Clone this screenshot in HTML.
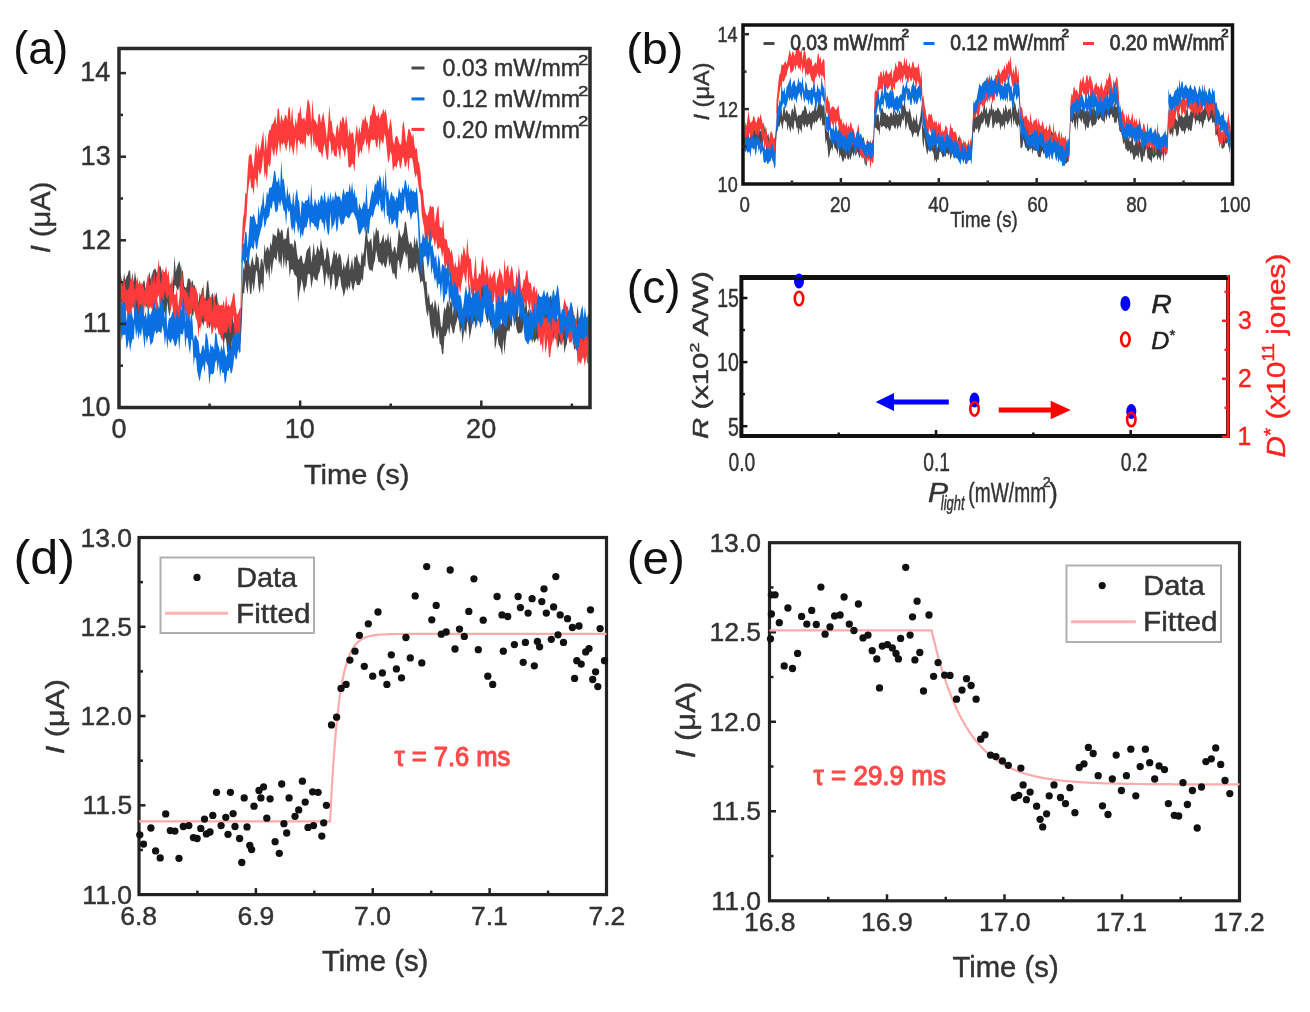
<!DOCTYPE html>
<html><head><meta charset="utf-8"><style>
html,body{margin:0;padding:0;background:#fff;width:1310px;height:1012px;overflow:hidden}
svg{display:block;filter:blur(0.45px)}
text{font-family:"Liberation Sans",sans-serif}
</style></head><body>
<svg width="1310" height="1012" viewBox="0 0 1310 1012">
<g>
<polygon fill="#4a4a4a" fill-opacity="1.0"  points="120.5,271.1 121.7,280.5 122.9,283.4 124.1,273.1 125.3,280.4 126.5,276.6 127.7,274.9 128.9,270.3 130.1,271.1 131.3,285.4 132.5,272.2 133.7,282.7 134.9,270.8 136.1,279.8 137.3,296.7 138.5,289.7 139.7,293.8 140.9,288.1 142.1,295.2 143.3,281.1 144.5,280.5 145.7,289.4 146.9,281.3 148.1,280.7 149.3,271.0 150.5,279.6 151.7,276.5 152.9,271.3 154.1,269.3 155.3,268.5 156.5,272.0 157.7,273.5 158.9,268.1 160.1,265.3 161.3,269.3 162.5,277.7 163.7,294.4 164.9,279.6 166.1,273.2 167.3,282.2 168.5,282.6 169.7,288.3 170.9,281.8 172.1,285.2 173.3,279.1 174.5,255.6 175.7,272.3 176.9,267.6 178.1,263.9 179.3,260.8 180.5,266.3 181.7,272.6 182.9,269.7 184.1,285.8 185.3,287.7 186.5,287.3 187.7,279.4 188.9,278.0 190.1,279.7 191.3,284.5 192.5,279.7 193.7,286.2 194.9,284.8 196.1,295.5 197.3,291.8 198.5,303.3 199.7,292.6 200.9,295.9 202.1,288.1 203.3,288.6 204.5,301.1 205.7,296.9 206.9,282.8 208.1,279.5 209.3,292.0 210.5,303.5 211.7,294.3 212.9,292.9 214.1,302.0 215.3,295.8 216.5,292.1 217.7,300.9 218.9,309.6 220.1,310.6 221.3,308.1 222.5,320.7 223.7,309.3 224.9,315.4 226.1,318.6 227.3,319.2 228.5,322.5 229.7,327.1 230.9,327.3 232.1,314.0 233.3,322.3 234.5,325.1 235.7,322.5 236.9,328.1 238.1,330.0 239.3,307.7 240.5,320.6 241.7,297.4 242.9,265.9 244.1,270.7 245.3,258.3 246.5,260.8 247.7,255.1 248.9,261.6 250.1,267.6 251.3,261.6 252.5,256.0 253.7,264.6 254.9,265.3 256.1,251.5 257.3,256.7 258.5,257.7 259.7,270.7 260.9,259.3 262.1,258.8 263.3,266.1 264.5,243.2 265.7,252.5 266.9,247.3 268.1,247.3 269.3,251.7 270.5,242.1 271.7,245.9 272.9,232.7 274.1,235.5 275.3,235.0 276.5,237.8 277.7,227.7 278.9,229.1 280.1,233.7 281.3,229.4 282.5,230.2 283.7,240.3 284.9,238.3 286.1,239.2 287.3,228.9 288.5,226.1 289.7,243.3 290.9,244.4 292.1,242.7 293.3,248.2 294.5,239.1 295.7,241.9 296.9,252.6 298.1,259.8 299.3,258.9 300.5,255.8 301.7,255.6 302.9,263.0 304.1,264.0 305.3,258.7 306.5,251.6 307.7,249.1 308.9,247.8 310.1,244.7 311.3,263.1 312.5,254.4 313.7,242.1 314.9,255.5 316.1,254.2 317.3,245.0 318.5,249.1 319.7,251.8 320.9,238.0 322.1,246.4 323.3,250.0 324.5,260.8 325.7,257.9 326.9,246.2 328.1,250.3 329.3,256.6 330.5,267.9 331.7,263.2 332.9,256.3 334.1,249.5 335.3,255.8 336.5,251.4 337.7,259.5 338.9,253.6 340.1,253.9 341.3,259.5 342.5,270.9 343.7,262.1 344.9,269.1 346.1,264.3 347.3,260.6 348.5,252.7 349.7,270.8 350.9,265.5 352.1,257.6 353.3,270.3 354.5,256.0 355.7,257.7 356.9,253.1 358.1,260.8 359.3,262.9 360.5,265.9 361.7,251.3 362.9,256.5 364.1,250.1 365.3,236.0 366.5,226.7 367.7,239.2 368.9,243.1 370.1,239.7 371.3,238.2 372.5,252.2 373.7,229.9 374.9,237.0 376.1,226.7 377.3,231.6 378.5,229.5 379.7,243.6 380.9,242.8 382.1,239.0 383.3,233.4 384.5,243.6 385.7,238.3 386.9,240.9 388.1,231.9 389.3,244.3 390.5,235.2 391.7,248.5 392.9,252.7 394.1,246.6 395.3,247.5 396.5,254.5 397.7,241.7 398.9,228.0 400.1,233.9 401.3,237.9 402.5,235.0 403.7,232.0 404.9,221.3 406.1,222.4 407.3,231.9 408.5,241.1 409.7,245.1 410.9,240.4 412.1,246.4 413.3,248.8 414.5,235.3 415.7,245.3 416.9,236.8 418.1,245.9 419.3,250.6 420.5,254.7 421.7,253.4 422.9,251.4 424.1,268.9 425.3,281.9 426.5,280.9 427.7,298.7 428.9,292.6 430.1,304.7 431.3,304.7 432.5,301.3 433.7,309.4 434.9,299.1 436.1,304.0 437.3,313.1 438.5,302.3 439.7,314.5 440.9,325.9 442.1,327.8 443.3,314.1 444.5,306.5 445.7,310.4 446.9,303.4 448.1,299.9 449.3,307.9 450.5,301.6 451.7,302.1 452.9,316.3 454.1,300.9 455.3,306.6 456.5,303.2 457.7,296.0 458.9,304.5 460.1,305.8 461.3,311.9 462.5,314.8 463.7,317.9 464.9,296.9 466.1,293.6 467.3,302.0 468.5,294.5 469.7,315.1 470.9,308.8 472.1,293.5 473.3,306.2 474.5,297.6 475.7,308.4 476.9,292.4 478.1,296.6 479.3,287.0 480.5,288.2 481.7,283.9 482.9,283.5 484.1,279.0 485.3,293.0 486.5,288.9 487.7,300.5 488.9,298.2 490.1,293.3 491.3,297.1 492.5,304.6 493.7,304.3 494.9,321.2 496.1,318.1 497.3,314.6 498.5,326.7 499.7,319.2 500.9,325.2 502.1,322.5 503.3,321.4 504.5,325.7 505.7,318.7 506.9,299.3 508.1,306.7 509.3,310.3 510.5,293.9 511.7,294.8 512.9,282.0 514.1,291.6 515.3,291.2 516.5,298.9 517.7,316.9 518.9,316.6 520.1,304.9 521.3,303.6 522.5,298.0 523.7,295.3 524.9,309.5 526.1,294.9 527.3,313.5 528.5,308.9 529.7,314.1 530.9,312.1 532.1,314.0 533.3,313.0 534.5,312.0 535.7,311.1 536.9,314.0 538.1,313.1 539.3,310.0 540.5,315.0 541.7,302.7 542.9,306.0 544.1,297.0 545.3,299.7 546.5,305.5 547.7,298.0 548.9,302.1 550.1,296.3 551.3,295.0 552.5,305.8 553.7,316.4 554.9,305.4 556.1,306.1 557.3,320.5 558.5,317.1 559.7,314.0 560.9,322.2 562.1,323.3 563.3,312.8 564.5,316.5 565.7,317.2 566.9,321.0 568.1,314.1 569.3,312.2 570.5,314.6 571.7,302.7 572.9,309.0 574.1,321.9 575.3,329.9 576.5,317.3 577.7,305.1 578.9,321.4 580.1,329.2 581.3,320.3 582.5,331.7 583.7,337.4 584.9,329.6 586.1,326.8 587.3,318.2 588.5,311.6 588.5,336.5 587.3,343.0 586.1,350.9 584.9,347.0 583.7,355.6 582.5,359.4 581.3,343.8 580.1,352.3 578.9,348.4 577.7,343.6 576.5,350.5 575.3,348.1 574.1,350.3 572.9,334.9 571.7,326.5 570.5,341.3 569.3,339.1 568.1,331.9 566.9,343.8 565.7,346.4 564.5,353.8 563.3,338.7 562.1,343.6 560.9,345.2 559.7,341.0 558.5,347.4 557.3,345.2 556.1,330.8 554.9,332.2 553.7,343.2 552.5,330.3 551.3,324.6 550.1,324.6 548.9,334.5 547.7,318.7 546.5,326.8 545.3,320.6 544.1,331.1 542.9,334.3 541.7,332.1 540.5,343.4 539.3,331.7 538.1,342.0 536.9,337.9 535.7,339.7 534.5,343.0 533.3,338.2 532.1,343.5 530.9,336.4 529.7,342.2 528.5,331.3 527.3,328.0 526.1,323.0 524.9,333.9 523.7,321.3 522.5,330.6 521.3,333.0 520.1,332.8 518.9,333.4 517.7,333.1 516.5,328.7 515.3,320.3 514.1,327.6 512.9,309.0 511.7,327.4 510.5,324.7 509.3,332.0 508.1,330.1 506.9,331.4 505.7,340.5 504.5,355.0 503.3,338.5 502.1,356.1 500.9,349.4 499.7,346.2 498.5,344.4 497.3,335.0 496.1,344.8 494.9,349.6 493.7,327.2 492.5,319.0 491.3,329.3 490.1,324.0 488.9,316.0 487.7,323.4 486.5,319.0 485.3,313.3 484.1,297.7 482.9,310.0 481.7,310.0 480.5,318.3 479.3,323.0 478.1,320.2 476.9,320.7 475.7,329.5 474.5,321.0 473.3,321.1 472.1,325.6 470.9,331.9 469.7,339.6 468.5,326.4 467.3,320.0 466.1,335.0 464.9,329.2 463.7,333.8 462.5,344.1 461.3,327.0 460.1,334.0 458.9,321.4 457.7,316.9 456.5,322.2 455.3,325.9 454.1,333.4 452.9,333.3 451.7,328.0 450.5,322.9 449.3,335.5 448.1,327.6 446.9,331.9 445.7,336.2 444.5,336.0 443.3,354.0 442.1,354.2 440.9,344.6 439.7,344.2 438.5,329.5 437.3,339.1 436.1,334.2 434.9,325.2 433.7,338.0 432.5,338.6 431.3,330.3 430.1,324.1 428.9,309.5 427.7,316.9 426.5,312.0 425.3,303.1 424.1,290.3 422.9,281.8 421.7,280.5 420.5,283.8 419.3,275.4 418.1,269.4 416.9,262.1 415.7,272.2 414.5,265.9 413.3,271.7 412.1,273.3 410.9,267.7 409.7,268.6 408.5,273.0 407.3,253.0 406.1,258.6 404.9,250.9 403.7,254.0 402.5,260.3 401.3,264.8 400.1,270.0 398.9,259.7 397.7,261.3 396.5,280.0 395.3,278.1 394.1,272.6 392.9,274.7 391.7,269.4 390.5,261.8 389.3,267.6 388.1,254.9 386.9,262.9 385.7,268.3 384.5,266.5 383.3,262.1 382.1,266.8 380.9,263.3 379.7,262.1 378.5,262.0 377.3,255.7 376.1,250.1 374.9,260.4 373.7,264.3 372.5,271.9 371.3,270.1 370.1,270.5 368.9,268.6 367.7,262.7 366.5,246.8 365.3,267.7 364.1,265.3 362.9,281.4 361.7,278.3 360.5,282.7 359.3,285.6 358.1,285.1 356.9,285.1 355.7,280.0 354.5,284.6 353.3,291.6 352.1,288.1 350.9,280.0 349.7,289.7 348.5,285.6 347.3,291.6 346.1,286.3 344.9,292.3 343.7,297.0 342.5,290.0 341.3,286.1 340.1,276.1 338.9,277.6 337.7,285.5 336.5,286.8 335.3,291.0 334.1,275.1 332.9,273.5 331.7,285.2 330.5,290.4 329.3,273.9 328.1,280.8 326.9,271.9 325.7,276.5 324.5,287.8 323.3,273.8 322.1,265.8 320.9,265.3 319.7,272.1 318.5,274.0 317.3,281.6 316.1,279.5 314.9,280.0 313.7,275.4 312.5,281.8 311.3,288.4 310.1,274.9 308.9,273.4 307.7,275.0 306.5,285.5 305.3,287.7 304.1,293.6 302.9,285.4 301.7,278.7 300.5,286.6 299.3,292.7 298.1,302.8 296.9,277.7 295.7,275.6 294.5,275.0 293.3,270.8 292.1,268.9 290.9,269.7 289.7,277.5 288.5,260.8 287.3,260.1 286.1,269.6 284.9,257.1 283.7,269.7 282.5,252.4 281.3,268.9 280.1,260.3 278.9,264.7 277.7,249.9 276.5,260.8 275.3,258.7 274.1,257.3 272.9,264.0 271.7,275.2 270.5,263.0 269.3,281.8 268.1,267.8 266.9,275.1 265.7,270.7 264.5,262.6 263.3,292.6 262.1,283.6 260.9,283.3 259.7,294.0 258.5,287.3 257.3,272.4 256.1,270.1 254.9,281.8 253.7,292.4 252.5,281.5 251.3,293.7 250.1,294.0 248.9,278.7 247.7,294.2 246.5,288.5 245.3,279.7 244.1,293.5 242.9,293.2 241.7,324.8 240.5,344.5 239.3,336.3 238.1,351.9 236.9,350.1 235.7,347.1 234.5,356.7 233.3,347.5 232.1,337.4 230.9,355.9 229.7,362.4 228.5,351.4 227.3,352.3 226.1,340.1 224.9,337.2 223.7,346.8 222.5,336.0 221.3,339.4 220.1,334.3 218.9,332.2 217.7,320.8 216.5,323.7 215.3,326.9 214.1,327.6 212.9,311.3 211.7,314.7 210.5,325.2 209.3,328.9 208.1,316.5 206.9,309.4 205.7,321.7 204.5,320.5 203.3,326.1 202.1,322.0 200.9,321.8 199.7,328.5 198.5,326.4 197.3,314.5 196.1,320.8 194.9,310.2 193.7,311.9 192.5,316.9 191.3,308.8 190.1,313.0 188.9,310.8 187.7,309.0 186.5,309.5 185.3,310.7 184.1,303.0 182.9,296.5 181.7,298.6 180.5,299.7 179.3,285.8 178.1,290.9 176.9,288.7 175.7,285.4 174.5,285.3 173.3,301.1 172.1,300.1 170.9,307.1 169.7,316.4 168.5,312.1 167.3,301.8 166.1,316.0 164.9,313.2 163.7,310.1 162.5,315.9 161.3,294.0 160.1,295.5 158.9,289.3 157.7,296.9 156.5,298.2 155.3,289.9 154.1,299.2 152.9,295.4 151.7,303.7 150.5,299.7 149.3,300.1 148.1,300.8 146.9,306.1 145.7,308.3 144.5,296.8 143.3,316.0 142.1,312.9 140.9,310.1 139.7,316.6 138.5,326.7 137.3,320.3 136.1,311.0 134.9,297.0 133.7,306.2 132.5,297.8 131.3,309.5 130.1,305.8 128.9,305.0 127.7,319.5 126.5,294.2 125.3,301.5 124.1,302.9 122.9,308.1 121.7,307.1 120.5,296.7"/>
<polygon fill="#ff3a3a" fill-opacity="1.0"  points="120.5,275.8 121.7,281.5 122.9,286.9 124.1,276.9 125.3,287.2 126.5,290.8 127.7,289.7 128.9,288.4 130.1,282.1 131.3,278.9 132.5,275.7 133.7,284.4 134.9,291.8 136.1,281.7 137.3,276.8 138.5,284.5 139.7,280.0 140.9,284.8 142.1,281.9 143.3,286.2 144.5,291.1 145.7,288.6 146.9,280.4 148.1,273.2 149.3,286.1 150.5,284.3 151.7,273.4 152.9,283.9 154.1,268.9 155.3,284.9 156.5,275.7 157.7,268.4 158.9,258.7 160.1,279.6 161.3,285.3 162.5,268.6 163.7,271.6 164.9,272.3 166.1,265.4 167.3,276.1 168.5,269.9 169.7,283.7 170.9,287.4 172.1,274.4 173.3,293.1 174.5,294.4 175.7,294.7 176.9,288.3 178.1,306.9 179.3,298.6 180.5,281.6 181.7,264.7 182.9,284.6 184.1,289.8 185.3,288.8 186.5,292.2 187.7,292.7 188.9,299.8 190.1,288.3 191.3,280.6 192.5,287.6 193.7,286.2 194.9,289.8 196.1,287.0 197.3,294.8 198.5,305.5 199.7,301.9 200.9,295.1 202.1,296.5 203.3,283.8 204.5,297.7 205.7,300.3 206.9,300.9 208.1,300.2 209.3,296.8 210.5,296.8 211.7,299.5 212.9,312.4 214.1,291.5 215.3,302.2 216.5,305.9 217.7,301.0 218.9,304.7 220.1,305.7 221.3,304.4 222.5,305.8 223.7,299.8 224.9,308.6 226.1,294.5 227.3,306.7 228.5,303.8 229.7,307.2 230.9,304.3 232.1,299.7 233.3,293.0 234.5,293.9 235.7,307.0 236.9,314.7 238.1,313.0 239.3,309.8 240.5,307.2 241.7,243.8 242.9,219.0 244.1,212.7 245.3,192.7 246.5,194.1 247.7,169.8 248.9,155.5 250.1,154.7 251.3,153.2 252.5,163.9 253.7,168.3 254.9,152.2 256.1,141.8 257.3,154.2 258.5,143.0 259.7,151.9 260.9,145.3 262.1,137.4 263.3,130.5 264.5,152.4 265.7,134.1 266.9,150.5 268.1,135.8 269.3,130.0 270.5,130.2 271.7,124.2 272.9,123.7 274.1,120.6 275.3,115.6 276.5,126.1 277.7,109.4 278.9,108.3 280.1,124.1 281.3,113.9 282.5,119.5 283.7,121.2 284.9,115.0 286.1,114.9 287.3,120.3 288.5,107.4 289.7,107.1 290.9,122.6 292.1,106.1 293.3,123.3 294.5,128.0 295.7,117.9 296.9,124.9 298.1,113.1 299.3,113.1 300.5,105.6 301.7,118.1 302.9,119.5 304.1,117.1 305.3,121.4 306.5,109.8 307.7,98.8 308.9,101.2 310.1,106.6 311.3,122.5 312.5,98.8 313.7,118.4 314.9,120.3 316.1,121.8 317.3,125.5 318.5,114.8 319.7,113.5 320.9,122.9 322.1,117.3 323.3,111.8 324.5,120.4 325.7,128.5 326.9,139.3 328.1,123.9 329.3,105.0 330.5,120.4 331.7,121.2 332.9,132.5 334.1,134.1 335.3,137.9 336.5,127.0 337.7,123.8 338.9,133.3 340.1,119.1 341.3,123.6 342.5,116.3 343.7,117.9 344.9,125.1 346.1,114.6 347.3,123.8 348.5,138.0 349.7,128.6 350.9,134.7 352.1,132.1 353.3,133.6 354.5,145.9 355.7,132.1 356.9,124.2 358.1,135.1 359.3,126.4 360.5,133.8 361.7,123.7 362.9,118.3 364.1,120.8 365.3,114.7 366.5,121.4 367.7,122.7 368.9,129.7 370.1,116.0 371.3,115.0 372.5,109.6 373.7,103.5 374.9,107.7 376.1,115.2 377.3,116.7 378.5,111.4 379.7,119.2 380.9,114.2 382.1,113.7 383.3,108.6 384.5,113.2 385.7,109.2 386.9,117.2 388.1,130.2 389.3,126.6 390.5,118.0 391.7,126.1 392.9,140.2 394.1,145.3 395.3,137.2 396.5,135.8 397.7,137.0 398.9,142.1 400.1,144.9 401.3,143.5 402.5,125.3 403.7,120.6 404.9,131.6 406.1,143.6 407.3,136.6 408.5,128.4 409.7,129.5 410.9,132.9 412.1,137.3 413.3,133.2 414.5,145.5 415.7,149.4 416.9,147.7 418.1,160.9 419.3,163.4 420.5,172.0 421.7,188.0 422.9,190.3 424.1,204.2 425.3,211.4 426.5,215.6 427.7,215.6 428.9,211.1 430.1,204.7 431.3,207.3 432.5,206.4 433.7,206.9 434.9,223.3 436.1,216.3 437.3,208.1 438.5,205.5 439.7,226.5 440.9,227.2 442.1,228.6 443.3,219.0 444.5,238.4 445.7,239.2 446.9,239.5 448.1,248.3 449.3,247.2 450.5,253.3 451.7,249.3 452.9,256.4 454.1,267.4 455.3,261.5 456.5,267.5 457.7,267.1 458.9,252.4 460.1,266.3 461.3,252.4 462.5,256.4 463.7,245.8 464.9,251.2 466.1,256.9 467.3,237.3 468.5,254.0 469.7,258.8 470.9,258.4 472.1,273.9 473.3,280.8 474.5,268.3 475.7,254.9 476.9,278.9 478.1,278.1 479.3,272.4 480.5,275.5 481.7,261.3 482.9,256.2 484.1,268.7 485.3,275.5 486.5,264.3 487.7,269.6 488.9,279.7 490.1,271.2 491.3,278.5 492.5,276.1 493.7,272.5 494.9,270.4 496.1,285.3 497.3,278.6 498.5,275.0 499.7,267.4 500.9,272.8 502.1,275.1 503.3,283.8 504.5,257.8 505.7,272.2 506.9,266.9 508.1,264.5 509.3,276.9 510.5,271.0 511.7,265.3 512.9,271.3 514.1,285.7 515.3,286.6 516.5,271.3 517.7,279.1 518.9,265.1 520.1,276.3 521.3,290.1 522.5,287.1 523.7,278.8 524.9,280.3 526.1,271.3 527.3,270.0 528.5,281.2 529.7,283.6 530.9,282.6 532.1,292.7 533.3,286.8 534.5,285.7 535.7,293.3 536.9,287.3 538.1,301.1 539.3,306.9 540.5,310.4 541.7,321.9 542.9,312.6 544.1,317.4 545.3,318.0 546.5,318.4 547.7,316.1 548.9,313.4 550.1,321.4 551.3,316.7 552.5,307.3 553.7,310.3 554.9,315.7 556.1,322.7 557.3,320.7 558.5,305.7 559.7,311.9 560.9,324.0 562.1,322.1 563.3,305.8 564.5,298.5 565.7,303.1 566.9,306.3 568.1,307.0 569.3,320.2 570.5,312.8 571.7,320.1 572.9,309.9 574.1,314.6 575.3,317.9 576.5,320.8 577.7,330.2 578.9,327.8 580.1,338.5 581.3,336.8 582.5,330.5 583.7,336.3 584.9,326.6 586.1,329.2 587.3,331.4 588.5,331.3 588.5,363.5 587.3,363.3 586.1,356.1 584.9,366.8 583.7,358.9 582.5,354.3 581.3,362.8 580.1,363.8 578.9,360.6 577.7,366.2 576.5,344.9 575.3,349.0 574.1,341.3 572.9,336.9 571.7,342.2 570.5,342.5 569.3,342.8 568.1,336.6 566.9,338.5 565.7,336.0 564.5,327.3 563.3,334.2 562.1,346.2 560.9,342.7 559.7,334.2 558.5,332.6 557.3,350.9 556.1,339.0 554.9,339.5 553.7,330.9 552.5,342.4 551.3,346.6 550.1,357.4 548.9,356.8 547.7,338.4 546.5,347.8 545.3,352.9 544.1,333.2 542.9,354.1 541.7,343.3 540.5,346.3 539.3,336.6 538.1,338.9 536.9,320.9 535.7,328.7 534.5,322.5 533.3,311.7 532.1,319.8 530.9,300.6 529.7,313.8 528.5,305.3 527.3,299.5 526.1,305.7 524.9,302.9 523.7,302.6 522.5,309.6 521.3,317.2 520.1,305.2 518.9,307.1 517.7,295.7 516.5,299.7 515.3,310.7 514.1,315.6 512.9,303.4 511.7,306.1 510.5,304.1 509.3,303.0 508.1,292.3 506.9,293.9 505.7,296.1 504.5,288.3 503.3,310.8 502.1,298.5 500.9,299.8 499.7,302.6 498.5,316.2 497.3,308.5 496.1,315.0 494.9,290.8 493.7,301.6 492.5,304.8 491.3,317.9 490.1,295.9 488.9,302.0 487.7,290.8 486.5,290.9 485.3,298.1 484.1,291.4 482.9,286.4 481.7,287.3 480.5,301.2 479.3,294.7 478.1,299.2 476.9,313.0 475.7,292.2 474.5,289.7 473.3,308.3 472.1,296.3 470.9,291.9 469.7,275.3 468.5,293.0 467.3,266.1 466.1,283.7 464.9,279.0 463.7,272.3 462.5,278.3 461.3,285.6 460.1,294.5 458.9,285.5 457.7,298.3 456.5,303.7 455.3,287.7 454.1,286.9 452.9,284.9 451.7,294.9 450.5,278.8 449.3,277.8 448.1,273.6 446.9,262.9 445.7,268.0 444.5,266.9 443.3,251.1 442.1,257.7 440.9,249.0 439.7,247.1 438.5,249.0 437.3,248.7 436.1,239.3 434.9,247.6 433.7,239.8 432.5,237.0 431.3,242.0 430.1,242.3 428.9,233.7 427.7,247.7 426.5,247.5 425.3,247.1 424.1,227.5 422.9,221.8 421.7,213.9 420.5,194.6 419.3,191.5 418.1,183.3 416.9,173.1 415.7,177.7 414.5,173.8 413.3,164.2 412.1,158.2 410.9,158.0 409.7,158.0 408.5,172.5 407.3,159.1 406.1,165.9 404.9,167.3 403.7,157.8 402.5,157.2 401.3,166.0 400.1,169.3 398.9,159.8 397.7,162.0 396.5,167.9 395.3,165.5 394.1,167.3 392.9,171.5 391.7,154.9 390.5,150.9 389.3,160.1 388.1,163.0 386.9,149.9 385.7,138.3 384.5,133.3 383.3,143.8 382.1,142.8 380.9,139.1 379.7,151.2 378.5,136.4 377.3,148.0 376.1,146.6 374.9,138.7 373.7,140.6 372.5,139.8 371.3,139.3 370.1,143.8 368.9,154.9 367.7,141.8 366.5,146.9 365.3,137.5 364.1,143.8 362.9,145.4 361.7,154.3 360.5,149.7 359.3,153.5 358.1,158.4 356.9,140.2 355.7,148.9 354.5,172.4 353.3,164.4 352.1,163.3 350.9,166.7 349.7,167.5 348.5,166.9 347.3,149.5 346.1,147.7 344.9,158.2 343.7,151.2 342.5,148.5 341.3,144.6 340.1,160.7 338.9,153.2 337.7,145.6 336.5,157.6 335.3,156.0 334.1,155.5 332.9,148.7 331.7,155.5 330.5,143.2 329.3,139.4 328.1,159.4 326.9,159.4 325.7,152.0 324.5,143.3 323.3,150.3 322.1,158.3 320.9,152.5 319.7,152.5 318.5,151.3 317.3,144.6 316.1,148.5 314.9,141.2 313.7,147.5 312.5,131.8 311.3,152.1 310.1,133.0 308.9,136.2 307.7,135.7 306.5,133.0 305.3,150.0 304.1,141.6 302.9,145.2 301.7,142.3 300.5,145.0 299.3,141.1 298.1,139.7 296.9,157.1 295.7,137.5 294.5,147.3 293.3,155.7 292.1,148.3 290.9,144.7 289.7,153.5 288.5,139.3 287.3,145.0 286.1,151.2 284.9,145.5 283.7,142.0 282.5,145.6 281.3,142.4 280.1,154.0 278.9,139.8 277.7,148.5 276.5,157.3 275.3,146.6 274.1,156.9 272.9,152.9 271.7,146.6 270.5,163.7 269.3,167.3 268.1,163.4 266.9,181.4 265.7,172.2 264.5,178.3 263.3,154.6 262.1,165.6 260.9,172.3 259.7,174.9 258.5,169.0 257.3,189.5 256.1,180.4 254.9,177.8 253.7,195.1 252.5,187.9 251.3,188.2 250.1,177.4 248.9,184.5 247.7,194.6 246.5,217.3 245.3,226.9 244.1,236.7 242.9,247.6 241.7,264.9 240.5,332.2 239.3,339.5 238.1,340.9 236.9,339.4 235.7,338.8 234.5,331.0 233.3,314.7 232.1,320.8 230.9,332.9 229.7,331.8 228.5,325.3 227.3,330.3 226.1,334.0 224.9,331.4 223.7,333.3 222.5,341.8 221.3,335.5 220.1,333.3 218.9,335.6 217.7,329.3 216.5,327.1 215.3,331.2 214.1,325.1 212.9,331.9 211.7,335.3 210.5,322.0 209.3,322.4 208.1,328.4 206.9,327.9 205.7,317.4 204.5,323.1 203.3,315.6 202.1,317.7 200.9,330.4 199.7,322.4 198.5,338.1 197.3,322.4 196.1,318.0 194.9,309.0 193.7,316.1 192.5,307.2 191.3,313.7 190.1,314.0 188.9,327.7 187.7,320.8 186.5,310.5 185.3,320.4 184.1,309.1 182.9,307.9 181.7,306.8 180.5,324.3 179.3,332.7 178.1,332.3 176.9,329.0 175.7,323.0 174.5,328.6 173.3,313.4 172.1,302.4 170.9,308.5 169.7,312.5 168.5,293.9 167.3,299.4 166.1,296.3 164.9,290.4 163.7,300.4 162.5,297.5 161.3,310.9 160.1,317.3 158.9,295.9 157.7,294.9 156.5,313.5 155.3,304.6 154.1,306.4 152.9,311.2 151.7,308.6 150.5,306.8 149.3,308.2 148.1,312.7 146.9,305.6 145.7,303.4 144.5,306.7 143.3,325.9 142.1,315.1 140.9,304.0 139.7,305.8 138.5,312.4 137.3,297.9 136.1,303.0 134.9,321.9 133.7,307.5 132.5,307.6 131.3,309.9 130.1,316.0 128.9,318.8 127.7,315.4 126.5,310.4 125.3,310.4 124.1,313.9 122.9,316.8 121.7,296.7 120.5,305.5"/>
<polygon fill="#0a6fe0" fill-opacity="1.0"  points="120.5,303.3 121.7,304.6 122.9,302.1 124.1,303.6 125.3,300.7 126.5,321.8 127.7,313.9 128.9,313.6 130.1,314.9 131.3,308.7 132.5,316.2 133.7,320.4 134.9,296.9 136.1,307.0 137.3,307.8 138.5,316.1 139.7,305.0 140.9,308.8 142.1,301.4 143.3,313.8 144.5,316.7 145.7,311.5 146.9,319.6 148.1,306.2 149.3,313.8 150.5,315.1 151.7,310.9 152.9,308.6 154.1,301.4 155.3,305.7 156.5,310.1 157.7,300.8 158.9,308.8 160.1,304.9 161.3,295.5 162.5,299.8 163.7,304.9 164.9,318.4 166.1,304.3 167.3,330.1 168.5,320.1 169.7,317.6 170.9,317.5 172.1,312.7 173.3,310.7 174.5,317.6 175.7,320.9 176.9,307.7 178.1,315.6 179.3,318.5 180.5,309.2 181.7,310.1 182.9,296.1 184.1,301.5 185.3,322.3 186.5,309.3 187.7,319.0 188.9,314.8 190.1,322.3 191.3,310.6 192.5,320.8 193.7,340.8 194.9,335.0 196.1,335.7 197.3,339.3 198.5,341.0 199.7,353.0 200.9,353.4 202.1,346.5 203.3,344.5 204.5,351.0 205.7,332.5 206.9,334.3 208.1,341.2 209.3,353.4 210.5,343.3 211.7,347.5 212.9,345.4 214.1,350.2 215.3,332.5 216.5,333.4 217.7,343.8 218.9,347.1 220.1,353.1 221.3,344.7 222.5,351.0 223.7,341.5 224.9,351.7 226.1,357.5 227.3,353.6 228.5,341.5 229.7,350.3 230.9,348.2 232.1,341.7 233.3,332.6 234.5,335.2 235.7,336.3 236.9,331.7 238.1,331.8 239.3,333.7 240.5,332.8 241.7,259.0 242.9,243.6 244.1,243.7 245.3,231.6 246.5,232.2 247.7,248.4 248.9,232.6 250.1,215.6 251.3,217.1 252.5,216.8 253.7,214.0 254.9,217.7 256.1,223.8 257.3,224.7 258.5,204.9 259.7,216.2 260.9,207.5 262.1,203.8 263.3,190.7 264.5,209.2 265.7,203.5 266.9,191.3 268.1,195.6 269.3,187.8 270.5,187.7 271.7,186.9 272.9,180.8 274.1,170.7 275.3,171.6 276.5,182.0 277.7,181.8 278.9,176.7 280.1,188.0 281.3,159.9 282.5,179.8 283.7,178.5 284.9,188.2 286.1,199.8 287.3,185.8 288.5,196.6 289.7,192.1 290.9,202.5 292.1,205.2 293.3,190.7 294.5,207.4 295.7,194.8 296.9,188.5 298.1,199.2 299.3,202.2 300.5,217.3 301.7,200.1 302.9,201.9 304.1,203.9 305.3,200.4 306.5,200.6 307.7,200.0 308.9,193.6 310.1,205.4 311.3,183.2 312.5,204.2 313.7,206.7 314.9,198.1 316.1,202.7 317.3,206.2 318.5,198.5 319.7,204.0 320.9,195.2 322.1,195.5 323.3,201.4 324.5,190.2 325.7,200.4 326.9,203.1 328.1,193.9 329.3,201.2 330.5,191.5 331.7,201.9 332.9,194.9 334.1,200.9 335.3,190.8 336.5,195.8 337.7,197.0 338.9,195.7 340.1,197.2 341.3,201.9 342.5,193.2 343.7,188.1 344.9,195.6 346.1,192.1 347.3,191.6 348.5,192.2 349.7,182.7 350.9,192.6 352.1,181.6 353.3,195.1 354.5,188.7 355.7,198.2 356.9,196.4 358.1,210.9 359.3,202.7 360.5,207.6 361.7,209.8 362.9,205.0 364.1,200.7 365.3,205.2 366.5,182.4 367.7,209.0 368.9,208.8 370.1,201.0 371.3,194.6 372.5,190.0 373.7,192.9 374.9,182.7 376.1,185.3 377.3,179.3 378.5,182.3 379.7,174.7 380.9,178.8 382.1,191.1 383.3,174.5 384.5,191.1 385.7,167.1 386.9,193.2 388.1,188.4 389.3,201.3 390.5,195.0 391.7,191.2 392.9,196.4 394.1,196.1 395.3,201.6 396.5,196.0 397.7,198.7 398.9,186.8 400.1,191.9 401.3,193.4 402.5,186.4 403.7,190.1 404.9,179.6 406.1,181.6 407.3,189.9 408.5,183.4 409.7,192.7 410.9,187.5 412.1,191.7 413.3,190.6 414.5,192.3 415.7,192.3 416.9,186.5 418.1,202.4 419.3,219.4 420.5,243.7 421.7,242.8 422.9,232.2 424.1,238.0 425.3,237.0 426.5,233.5 427.7,244.5 428.9,240.8 430.1,226.6 431.3,246.7 432.5,244.6 433.7,252.9 434.9,258.6 436.1,254.3 437.3,268.4 438.5,254.1 439.7,260.1 440.9,273.3 442.1,264.1 443.3,264.7 444.5,266.6 445.7,268.0 446.9,268.6 448.1,258.2 449.3,282.4 450.5,269.9 451.7,280.1 452.9,286.7 454.1,282.6 455.3,282.3 456.5,287.3 457.7,285.6 458.9,295.7 460.1,294.4 461.3,298.9 462.5,309.4 463.7,303.3 464.9,291.6 466.1,284.9 467.3,295.2 468.5,291.9 469.7,282.5 470.9,296.9 472.1,298.6 473.3,286.1 474.5,294.0 475.7,291.3 476.9,293.0 478.1,288.9 479.3,294.0 480.5,301.3 481.7,295.3 482.9,296.1 484.1,283.2 485.3,286.8 486.5,284.4 487.7,284.1 488.9,291.5 490.1,289.9 491.3,291.7 492.5,301.5 493.7,304.8 494.9,315.2 496.1,301.8 497.3,303.5 498.5,293.3 499.7,301.7 500.9,299.7 502.1,295.9 503.3,296.0 504.5,302.9 505.7,299.7 506.9,303.6 508.1,290.9 509.3,286.6 510.5,290.8 511.7,298.2 512.9,288.0 514.1,291.1 515.3,298.6 516.5,287.0 517.7,297.2 518.9,268.8 520.1,288.3 521.3,298.7 522.5,294.2 523.7,307.3 524.9,310.5 526.1,313.2 527.3,313.1 528.5,317.3 529.7,311.8 530.9,308.7 532.1,314.8 533.3,310.0 534.5,301.2 535.7,316.3 536.9,300.7 538.1,292.6 539.3,296.1 540.5,296.8 541.7,297.2 542.9,293.7 544.1,289.1 545.3,296.8 546.5,293.1 547.7,291.5 548.9,298.3 550.1,296.3 551.3,308.0 552.5,292.3 553.7,289.0 554.9,296.4 556.1,293.4 557.3,284.2 558.5,289.2 559.7,300.0 560.9,314.7 562.1,308.7 563.3,310.0 564.5,308.4 565.7,318.8 566.9,314.0 568.1,311.0 569.3,309.6 570.5,302.2 571.7,302.5 572.9,315.3 574.1,315.0 575.3,319.4 576.5,327.7 577.7,324.8 578.9,318.8 580.1,316.1 581.3,309.1 582.5,305.2 583.7,318.7 584.9,306.3 586.1,316.6 587.3,318.2 588.5,313.1 588.5,334.6 587.3,338.6 586.1,336.1 584.9,337.2 583.7,342.0 582.5,339.2 581.3,339.5 580.1,337.1 578.9,345.8 577.7,350.8 576.5,350.7 575.3,343.3 574.1,343.3 572.9,345.6 571.7,325.7 570.5,332.4 569.3,331.4 568.1,335.0 566.9,339.4 565.7,340.8 564.5,324.6 563.3,335.2 562.1,332.2 560.9,336.1 559.7,330.3 558.5,317.8 557.3,314.6 556.1,322.2 554.9,322.0 553.7,317.6 552.5,317.3 551.3,332.2 550.1,320.3 548.9,324.0 547.7,318.9 546.5,313.7 545.3,320.6 544.1,314.2 542.9,322.9 541.7,326.4 540.5,328.0 539.3,323.4 538.1,321.9 536.9,325.7 535.7,335.2 534.5,325.5 533.3,340.4 532.1,336.8 530.9,340.3 529.7,338.7 528.5,344.4 527.3,343.8 526.1,341.2 524.9,339.7 523.7,329.2 522.5,315.2 521.3,323.1 520.1,316.3 518.9,303.4 517.7,322.6 516.5,308.1 515.3,321.3 514.1,323.1 512.9,315.3 511.7,316.2 510.5,321.5 509.3,317.4 508.1,313.1 506.9,328.2 505.7,326.5 504.5,324.8 503.3,323.2 502.1,322.1 500.9,318.5 499.7,331.8 498.5,325.1 497.3,329.9 496.1,328.5 494.9,331.0 493.7,327.5 492.5,335.1 491.3,320.4 490.1,319.0 488.9,321.7 487.7,310.6 486.5,317.1 485.3,312.1 484.1,306.8 482.9,321.7 481.7,322.3 480.5,328.3 479.3,322.0 478.1,317.4 476.9,327.5 475.7,321.7 474.5,313.8 473.3,325.4 472.1,320.7 470.9,326.4 469.7,311.3 468.5,323.0 467.3,321.8 466.1,314.5 464.9,320.1 463.7,334.9 462.5,331.4 461.3,320.6 460.1,324.7 458.9,320.9 457.7,312.2 456.5,310.2 455.3,317.6 454.1,305.2 452.9,308.8 451.7,303.2 450.5,296.8 449.3,306.8 448.1,284.7 446.9,294.8 445.7,293.4 444.5,299.7 443.3,304.1 442.1,281.5 440.9,298.0 439.7,283.9 438.5,283.4 437.3,289.8 436.1,277.5 434.9,282.0 433.7,274.6 432.5,266.9 431.3,275.0 430.1,254.0 428.9,264.0 427.7,268.4 426.5,258.1 425.3,255.4 424.1,257.3 422.9,258.0 421.7,275.8 420.5,270.0 419.3,257.3 418.1,223.9 416.9,209.5 415.7,213.7 414.5,212.1 413.3,212.3 412.1,214.7 410.9,220.7 409.7,213.0 408.5,209.3 407.3,213.7 406.1,206.3 404.9,195.1 403.7,210.6 402.5,209.9 401.3,214.5 400.1,211.0 398.9,210.7 397.7,228.0 396.5,228.6 395.3,219.4 394.1,220.7 392.9,223.5 391.7,224.9 390.5,216.9 389.3,225.4 388.1,215.2 386.9,216.2 385.7,193.9 384.5,220.1 383.3,207.4 382.1,212.8 380.9,209.6 379.7,198.7 378.5,206.9 377.3,203.2 376.1,205.1 374.9,208.3 373.7,214.1 372.5,217.8 371.3,214.8 370.1,220.1 368.9,232.8 367.7,234.3 366.5,225.9 365.3,234.3 364.1,227.0 362.9,227.7 361.7,230.4 360.5,233.5 359.3,235.1 358.1,231.8 356.9,221.3 355.7,217.7 354.5,214.9 353.3,212.3 352.1,212.4 350.9,214.3 349.7,217.6 348.5,218.4 347.3,217.2 346.1,215.7 344.9,218.1 343.7,224.0 342.5,223.4 341.3,225.6 340.1,222.0 338.9,215.2 337.7,228.9 336.5,232.6 335.3,217.8 334.1,224.8 332.9,225.9 331.7,230.6 330.5,211.9 329.3,232.4 328.1,235.7 326.9,229.0 325.7,218.5 324.5,232.3 323.3,223.3 322.1,222.4 320.9,218.8 319.7,219.9 318.5,229.0 317.3,230.9 316.1,226.3 314.9,227.3 313.7,223.8 312.5,223.0 311.3,221.8 310.1,230.3 308.9,216.7 307.7,221.8 306.5,228.0 305.3,226.7 304.1,229.0 302.9,236.9 301.7,232.7 300.5,239.3 299.3,226.8 298.1,234.0 296.9,223.7 295.7,220.3 294.5,235.3 293.3,226.4 292.1,230.9 290.9,225.6 289.7,210.0 288.5,212.4 287.3,207.2 286.1,226.0 284.9,210.9 283.7,210.9 282.5,204.4 281.3,199.6 280.1,206.9 278.9,201.0 277.7,210.2 276.5,212.2 275.3,211.6 274.1,202.1 272.9,200.7 271.7,209.6 270.5,206.5 269.3,215.8 268.1,217.8 266.9,218.4 265.7,224.6 264.5,228.3 263.3,215.8 262.1,225.9 260.9,229.4 259.7,234.6 258.5,239.4 257.3,247.9 256.1,249.4 254.9,239.5 253.7,249.4 252.5,248.3 251.3,246.5 250.1,250.5 248.9,261.9 247.7,264.7 246.5,256.2 245.3,265.5 244.1,262.7 242.9,259.4 241.7,285.2 240.5,351.5 239.3,353.3 238.1,348.0 236.9,358.6 235.7,359.5 234.5,353.6 233.3,365.0 232.1,372.1 230.9,374.2 229.7,367.2 228.5,371.6 227.3,370.4 226.1,380.6 224.9,384.5 223.7,372.7 222.5,372.9 221.3,368.5 220.1,377.5 218.9,361.7 217.7,371.8 216.5,359.8 215.3,362.2 214.1,372.3 212.9,374.4 211.7,373.5 210.5,374.6 209.3,385.3 208.1,366.5 206.9,363.8 205.7,360.4 204.5,373.1 203.3,364.3 202.1,368.5 200.9,373.7 199.7,381.7 198.5,377.1 197.3,371.4 196.1,358.7 194.9,356.8 193.7,366.4 192.5,340.8 191.3,339.1 190.1,354.4 188.9,347.7 187.7,338.3 186.5,337.6 185.3,348.7 184.1,327.5 182.9,334.8 181.7,333.9 180.5,333.7 179.3,351.1 178.1,336.7 176.9,342.8 175.7,346.5 174.5,345.3 173.3,340.3 172.1,338.1 170.9,343.4 169.7,341.5 168.5,338.5 167.3,349.4 166.1,334.8 164.9,345.8 163.7,331.4 162.5,325.6 161.3,333.6 160.1,332.3 158.9,331.2 157.7,332.3 156.5,334.0 155.3,330.3 154.1,334.5 152.9,342.0 151.7,343.5 150.5,345.6 149.3,336.6 148.1,335.6 146.9,343.7 145.7,334.8 144.5,349.5 143.3,336.1 142.1,326.7 140.9,337.0 139.7,331.8 138.5,340.3 137.3,329.5 136.1,337.9 134.9,323.3 133.7,339.8 132.5,338.9 131.3,344.0 130.1,352.1 128.9,339.0 127.7,346.0 126.5,349.2 125.3,333.8 124.1,335.4 122.9,334.3 121.7,340.9 120.5,327.9"/>
</g>
<rect x="119" y="48.5" width="471" height="359" fill="none" stroke="#2a2a2a" stroke-width="3.5"/>
<line x1="119" y1="323.9" x2="126" y2="323.9" stroke="#2a2a2a" stroke-width="2.5"/>
<line x1="119" y1="240.3" x2="126" y2="240.3" stroke="#2a2a2a" stroke-width="2.5"/>
<line x1="119" y1="156.7" x2="126" y2="156.7" stroke="#2a2a2a" stroke-width="2.5"/>
<line x1="119" y1="73.1" x2="126" y2="73.1" stroke="#2a2a2a" stroke-width="2.5"/>
<line x1="119" y1="365.7" x2="123" y2="365.7" stroke="#2a2a2a" stroke-width="2.5"/>
<line x1="119" y1="282.1" x2="123" y2="282.1" stroke="#2a2a2a" stroke-width="2.5"/>
<line x1="119" y1="198.5" x2="123" y2="198.5" stroke="#2a2a2a" stroke-width="2.5"/>
<line x1="119" y1="114.9" x2="123" y2="114.9" stroke="#2a2a2a" stroke-width="2.5"/>
<line x1="300.15" y1="407.5" x2="300.15" y2="400.5" stroke="#2a2a2a" stroke-width="2.5"/>
<line x1="481.31" y1="407.5" x2="481.31" y2="400.5" stroke="#2a2a2a" stroke-width="2.5"/>
<line x1="209.58" y1="407.5" x2="209.58" y2="403.5" stroke="#2a2a2a" stroke-width="2.5"/>
<line x1="390.73" y1="407.5" x2="390.73" y2="403.5" stroke="#2a2a2a" stroke-width="2.5"/>
<line x1="571.88" y1="407.5" x2="571.88" y2="403.5" stroke="#2a2a2a" stroke-width="2.5"/>
<text transform="translate(80.47,415.81) scale(1.0000,1)" font-size="27" fill="#333" stroke="#333" stroke-width="0.45">10</text>
<text transform="translate(82.77,332.22) scale(1.0000,1)" font-size="27" fill="#333" stroke="#333" stroke-width="0.45">11</text>
<text transform="translate(80.88,248.75) scale(1.0000,1)" font-size="27" fill="#333" stroke="#333" stroke-width="0.45">12</text>
<text transform="translate(80.61,165.02) scale(1.0000,1)" font-size="27" fill="#333" stroke="#333" stroke-width="0.45">13</text>
<text transform="translate(80.34,81.42) scale(1.0000,1)" font-size="27" fill="#333" stroke="#333" stroke-width="0.45">14</text>
<text transform="translate(111.44,438.31) scale(1.0000,1)" font-size="27" fill="#333" stroke="#333" stroke-width="0.45" style="">0</text>
<text transform="translate(284.63,438.31) scale(1.0000,1)" font-size="27" fill="#333" stroke="#333" stroke-width="0.45" style="">10</text>
<text transform="translate(466.12,438.31) scale(1.0000,1)" font-size="27" fill="#333" stroke="#333" stroke-width="0.45" style="">20</text>
<text transform="translate(303.92,483.66) scale(1.0449,1)" font-size="27.81" fill="#333" stroke="#333" stroke-width="0.45" style="" >Time (s)</text>
<text transform="translate(50.05,253.16) rotate(-90) scale(1.0241,1)" fill="#333" stroke="#333" stroke-width="0.45"><tspan x="0" y="0" font-size="28.34" style="font-style:italic;">I</tspan><tspan x="7.87" y="0" font-size="28.34" style=""> (μA)</tspan></text>
<text transform="translate(13.3,63.62) scale(0.9562,1)" font-size="47.06" fill="#111" stroke="#111" stroke-width="0" style="" >(a)</text>
<line x1="411.5" y1="68" x2="424.5" y2="68" stroke="#4a4a4a" stroke-width="3"/>
<text transform="translate(442.58,76.27) scale(0.9994,1)" font-size="23.13" fill="#333" stroke="#333" stroke-width="0.45" style="" >0.03 mW/mm</text>
<text transform="translate(578.07,65) scale(1.3077,1)" font-size="14.29" fill="#333" stroke="#333" stroke-width="0.45" style="" >2</text>
<line x1="411.5" y1="98.9" x2="424.5" y2="98.9" stroke="#0a6fe0" stroke-width="3"/>
<text transform="translate(442.58,107.17) scale(0.9994,1)" font-size="23.13" fill="#333" stroke="#333" stroke-width="0.45" style="" >0.12 mW/mm</text>
<text transform="translate(578.07,95.9) scale(1.3077,1)" font-size="14.29" fill="#333" stroke="#333" stroke-width="0.45" style="" >2</text>
<line x1="411.5" y1="129.4" x2="424.5" y2="129.4" stroke="#ff3a3a" stroke-width="3"/>
<text transform="translate(442.58,137.67) scale(0.9994,1)" font-size="23.13" fill="#333" stroke="#333" stroke-width="0.45" style="" >0.20 mW/mm</text>
<text transform="translate(578.07,126.4) scale(1.3077,1)" font-size="14.29" fill="#333" stroke="#333" stroke-width="0.45" style="" >2</text>
<polygon fill="#4a4a4a" fill-opacity="1.0"  points="744.5,134.4 745.5,135.7 746.5,124.2 747.5,137.8 748.5,134.5 749.5,139.3 750.5,130.8 751.5,127.6 752.5,132.5 753.5,128.9 754.5,127.5 755.5,128.3 756.5,129.4 757.5,128.7 758.5,129.6 759.5,131.0 760.5,130.8 761.5,131.5 762.5,132.0 763.5,121.9 764.5,126.5 765.5,133.8 766.5,137.4 767.5,135.0 768.5,133.3 769.5,143.9 770.5,147.2 771.5,135.6 772.5,144.9 773.5,142.2 774.5,142.7 775.5,133.2 776.5,124.8 777.5,112.3 778.5,115.9 779.5,112.0 780.5,101.9 781.5,108.7 782.5,117.4 783.5,107.0 784.5,105.7 785.5,114.1 786.5,109.8 787.5,111.2 788.5,114.6 789.5,112.9 790.5,116.9 791.5,110.6 792.5,108.1 793.5,112.6 794.5,102.4 795.5,108.0 796.5,113.3 797.5,117.4 798.5,114.8 799.5,115.3 800.5,115.2 801.5,113.5 802.5,110.6 803.5,110.7 804.5,105.5 805.5,105.9 806.5,109.6 807.5,114.2 808.5,113.9 809.5,109.9 810.5,113.4 811.5,112.6 812.5,110.5 813.5,111.3 814.5,107.6 815.5,100.4 816.5,111.8 817.5,107.4 818.5,101.6 819.5,104.1 820.5,104.7 821.5,104.2 822.5,106.7 823.5,104.3 824.5,108.2 825.5,128.2 826.5,129.8 827.5,132.5 828.5,129.6 829.5,137.5 830.5,140.1 831.5,128.6 832.5,133.0 833.5,131.7 834.5,130.9 835.5,133.7 836.5,137.9 837.5,130.7 838.5,128.9 839.5,136.1 840.5,143.0 841.5,144.1 842.5,136.3 843.5,144.9 844.5,140.5 845.5,141.2 846.5,141.1 847.5,144.9 848.5,142.8 849.5,139.1 850.5,140.9 851.5,140.6 852.5,138.4 853.5,142.2 854.5,139.5 855.5,139.4 856.5,136.1 857.5,136.8 858.5,141.9 859.5,143.3 860.5,142.5 861.5,136.4 862.5,138.5 863.5,136.4 864.5,141.9 865.5,145.5 866.5,145.8 867.5,142.9 868.5,141.0 869.5,142.9 870.5,139.5 871.5,151.0 872.5,143.7 873.5,136.5 874.5,108.9 875.5,112.9 876.5,115.7 877.5,114.4 878.5,114.0 879.5,123.7 880.5,112.2 881.5,108.3 882.5,107.8 883.5,112.3 884.5,112.9 885.5,112.8 886.5,115.6 887.5,114.2 888.5,116.7 889.5,116.9 890.5,112.7 891.5,112.6 892.5,116.6 893.5,108.2 894.5,116.0 895.5,111.0 896.5,113.0 897.5,114.8 898.5,114.5 899.5,109.4 900.5,115.1 901.5,109.8 902.5,104.1 903.5,106.5 904.5,99.7 905.5,108.1 906.5,111.8 907.5,111.2 908.5,112.7 909.5,107.9 910.5,112.0 911.5,117.5 912.5,122.5 913.5,116.3 914.5,119.7 915.5,121.0 916.5,112.4 917.5,123.2 918.5,125.8 919.5,120.7 920.5,115.7 921.5,102.8 922.5,124.2 923.5,128.5 924.5,127.8 925.5,129.2 926.5,139.1 927.5,140.0 928.5,135.1 929.5,138.8 930.5,135.1 931.5,136.7 932.5,131.8 933.5,140.2 934.5,144.8 935.5,141.2 936.5,147.6 937.5,147.5 938.5,143.2 939.5,140.7 940.5,137.4 941.5,144.3 942.5,145.0 943.5,139.9 944.5,137.6 945.5,139.3 946.5,137.6 947.5,138.7 948.5,139.9 949.5,139.2 950.5,142.7 951.5,141.8 952.5,139.0 953.5,130.6 954.5,138.0 955.5,141.9 956.5,140.3 957.5,141.2 958.5,136.6 959.5,139.7 960.5,137.4 961.5,147.5 962.5,142.7 963.5,144.3 964.5,141.3 965.5,149.3 966.5,147.5 967.5,145.6 968.5,145.8 969.5,146.7 970.5,142.4 971.5,141.7 972.5,126.5 973.5,113.4 974.5,116.2 975.5,117.2 976.5,116.9 977.5,113.2 978.5,113.1 979.5,114.8 980.5,113.4 981.5,110.5 982.5,113.4 983.5,107.0 984.5,102.8 985.5,111.1 986.5,106.2 987.5,114.3 988.5,112.7 989.5,108.2 990.5,110.3 991.5,100.8 992.5,110.5 993.5,108.4 994.5,112.6 995.5,109.4 996.5,111.3 997.5,107.4 998.5,108.2 999.5,110.6 1000.5,111.7 1001.5,114.3 1002.5,114.7 1003.5,106.4 1004.5,112.3 1005.5,103.4 1006.5,107.9 1007.5,112.6 1008.5,108.7 1009.5,109.8 1010.5,107.0 1011.5,115.3 1012.5,102.5 1013.5,107.4 1014.5,101.0 1015.5,104.6 1016.5,110.4 1017.5,113.5 1018.5,107.1 1019.5,112.7 1020.5,134.2 1021.5,125.1 1022.5,125.7 1023.5,123.2 1024.5,128.8 1025.5,130.3 1026.5,137.4 1027.5,136.9 1028.5,140.5 1029.5,137.0 1030.5,133.7 1031.5,132.9 1032.5,132.2 1033.5,136.2 1034.5,134.4 1035.5,137.3 1036.5,130.0 1037.5,141.0 1038.5,142.9 1039.5,142.8 1040.5,143.9 1041.5,138.2 1042.5,137.8 1043.5,130.4 1044.5,131.9 1045.5,132.8 1046.5,130.8 1047.5,131.5 1048.5,141.2 1049.5,134.4 1050.5,128.7 1051.5,131.2 1052.5,133.0 1053.5,131.5 1054.5,134.5 1055.5,134.3 1056.5,135.3 1057.5,138.8 1058.5,132.1 1059.5,145.1 1060.5,144.0 1061.5,139.9 1062.5,141.6 1063.5,141.8 1064.5,150.1 1065.5,149.5 1066.5,148.7 1067.5,148.5 1068.5,145.5 1069.5,135.9 1070.5,107.5 1071.5,104.5 1072.5,108.4 1073.5,104.9 1074.5,112.4 1075.5,115.0 1076.5,105.1 1077.5,116.5 1078.5,107.4 1079.5,103.8 1080.5,100.9 1081.5,110.8 1082.5,103.4 1083.5,108.7 1084.5,112.5 1085.5,110.8 1086.5,111.3 1087.5,106.2 1088.5,111.7 1089.5,110.6 1090.5,108.9 1091.5,103.8 1092.5,108.8 1093.5,111.9 1094.5,107.2 1095.5,111.7 1096.5,106.5 1097.5,102.3 1098.5,99.7 1099.5,104.2 1100.5,103.2 1101.5,105.9 1102.5,98.6 1103.5,107.8 1104.5,105.1 1105.5,103.9 1106.5,102.6 1107.5,96.6 1108.5,104.7 1109.5,104.0 1110.5,100.2 1111.5,100.6 1112.5,101.2 1113.5,107.4 1114.5,102.4 1115.5,106.6 1116.5,107.6 1117.5,99.9 1118.5,106.4 1119.5,115.9 1120.5,118.2 1121.5,121.1 1122.5,126.3 1123.5,131.4 1124.5,129.0 1125.5,133.9 1126.5,131.8 1127.5,139.7 1128.5,137.1 1129.5,141.1 1130.5,141.5 1131.5,138.9 1132.5,134.5 1133.5,145.4 1134.5,145.2 1135.5,142.0 1136.5,140.7 1137.5,134.7 1138.5,139.9 1139.5,134.1 1140.5,143.4 1141.5,138.0 1142.5,145.4 1143.5,145.7 1144.5,136.0 1145.5,136.1 1146.5,132.3 1147.5,139.6 1148.5,144.8 1149.5,142.2 1150.5,147.7 1151.5,145.9 1152.5,141.3 1153.5,145.3 1154.5,145.9 1155.5,137.1 1156.5,138.3 1157.5,142.0 1158.5,143.1 1159.5,145.3 1160.5,143.2 1161.5,139.5 1162.5,140.8 1163.5,146.3 1164.5,140.3 1165.5,134.4 1166.5,143.4 1167.5,134.1 1168.5,111.9 1169.5,117.8 1170.5,118.0 1171.5,116.9 1172.5,122.0 1173.5,112.0 1174.5,114.4 1175.5,118.5 1176.5,119.4 1177.5,121.7 1178.5,114.1 1179.5,113.1 1180.5,116.6 1181.5,114.5 1182.5,116.6 1183.5,117.8 1184.5,116.3 1185.5,114.1 1186.5,109.2 1187.5,109.1 1188.5,116.2 1189.5,115.4 1190.5,111.5 1191.5,110.7 1192.5,112.9 1193.5,106.8 1194.5,108.1 1195.5,110.5 1196.5,107.7 1197.5,108.2 1198.5,105.6 1199.5,107.9 1200.5,106.2 1201.5,112.6 1202.5,110.4 1203.5,109.5 1204.5,107.4 1205.5,101.7 1206.5,100.1 1207.5,103.2 1208.5,105.5 1209.5,104.0 1210.5,106.0 1211.5,102.2 1212.5,110.1 1213.5,107.1 1214.5,105.0 1215.5,117.5 1216.5,122.6 1217.5,125.7 1218.5,123.3 1219.5,129.6 1220.5,125.0 1221.5,134.3 1222.5,137.1 1223.5,131.2 1224.5,138.1 1225.5,130.8 1226.5,131.3 1227.5,131.7 1228.5,134.2 1229.5,134.9 1230.5,129.6 1230.5,146.5 1229.5,147.0 1228.5,147.2 1227.5,141.8 1226.5,144.1 1225.5,142.4 1224.5,147.2 1223.5,148.0 1222.5,148.9 1221.5,147.8 1220.5,139.5 1219.5,141.2 1218.5,140.8 1217.5,136.0 1216.5,134.5 1215.5,134.8 1214.5,122.6 1213.5,121.9 1212.5,123.6 1211.5,117.6 1210.5,119.3 1209.5,120.4 1208.5,122.8 1207.5,118.9 1206.5,113.7 1205.5,119.7 1204.5,119.9 1203.5,124.7 1202.5,128.9 1201.5,122.5 1200.5,120.8 1199.5,124.9 1198.5,120.6 1197.5,120.6 1196.5,120.1 1195.5,125.2 1194.5,118.6 1193.5,117.1 1192.5,123.9 1191.5,130.7 1190.5,131.2 1189.5,128.8 1188.5,131.7 1187.5,127.4 1186.5,128.1 1185.5,131.0 1184.5,134.7 1183.5,130.2 1182.5,131.6 1181.5,130.8 1180.5,128.4 1179.5,125.8 1178.5,133.9 1177.5,135.8 1176.5,136.8 1175.5,129.2 1174.5,128.9 1173.5,126.3 1172.5,137.9 1171.5,132.5 1170.5,135.0 1169.5,133.2 1168.5,126.4 1167.5,150.1 1166.5,153.7 1165.5,156.3 1164.5,151.3 1163.5,162.9 1162.5,153.5 1161.5,155.5 1160.5,160.8 1159.5,158.0 1158.5,155.9 1157.5,160.6 1156.5,154.5 1155.5,155.7 1154.5,157.1 1153.5,158.7 1152.5,155.6 1151.5,163.4 1150.5,159.9 1149.5,159.7 1148.5,158.1 1147.5,158.7 1146.5,146.6 1145.5,150.6 1144.5,156.8 1143.5,155.7 1142.5,162.1 1141.5,161.9 1140.5,156.9 1139.5,151.3 1138.5,158.7 1137.5,155.1 1136.5,155.5 1135.5,156.5 1134.5,159.7 1133.5,160.1 1132.5,153.8 1131.5,152.1 1130.5,154.7 1129.5,149.4 1128.5,151.2 1127.5,151.6 1126.5,149.3 1125.5,149.6 1124.5,142.1 1123.5,144.6 1122.5,139.5 1121.5,131.2 1120.5,132.3 1119.5,130.7 1118.5,124.0 1117.5,116.8 1116.5,123.1 1115.5,122.4 1114.5,123.4 1113.5,117.1 1112.5,117.8 1111.5,113.9 1110.5,114.5 1109.5,119.2 1108.5,115.8 1107.5,114.1 1106.5,121.0 1105.5,114.5 1104.5,124.0 1103.5,121.0 1102.5,120.7 1101.5,119.3 1100.5,117.2 1099.5,118.7 1098.5,120.8 1097.5,118.0 1096.5,122.2 1095.5,124.4 1094.5,125.0 1093.5,125.1 1092.5,127.0 1091.5,125.2 1090.5,119.2 1089.5,122.8 1088.5,128.2 1087.5,128.0 1086.5,125.2 1085.5,131.7 1084.5,123.8 1083.5,123.8 1082.5,117.4 1081.5,123.3 1080.5,120.1 1079.5,118.0 1078.5,118.3 1077.5,131.7 1076.5,118.4 1075.5,130.5 1074.5,126.5 1073.5,119.4 1072.5,123.9 1071.5,120.9 1070.5,121.4 1069.5,151.4 1068.5,162.5 1067.5,161.5 1066.5,163.5 1065.5,163.6 1064.5,162.9 1063.5,158.6 1062.5,154.6 1061.5,152.2 1060.5,158.4 1059.5,160.0 1058.5,153.5 1057.5,150.5 1056.5,151.3 1055.5,147.7 1054.5,147.9 1053.5,154.3 1052.5,146.6 1051.5,146.8 1050.5,140.0 1049.5,147.9 1048.5,151.9 1047.5,145.9 1046.5,144.7 1045.5,147.6 1044.5,152.1 1043.5,154.5 1042.5,150.2 1041.5,152.3 1040.5,157.8 1039.5,157.1 1038.5,156.9 1037.5,154.2 1036.5,149.1 1035.5,151.3 1034.5,150.5 1033.5,148.5 1032.5,154.9 1031.5,144.2 1030.5,149.9 1029.5,148.2 1028.5,151.6 1027.5,150.8 1026.5,147.5 1025.5,147.9 1024.5,143.9 1023.5,139.1 1022.5,146.8 1021.5,147.9 1020.5,148.2 1019.5,127.1 1018.5,123.4 1017.5,128.0 1016.5,125.1 1015.5,124.1 1014.5,118.7 1013.5,125.7 1012.5,114.5 1011.5,129.0 1010.5,117.5 1009.5,121.1 1008.5,122.7 1007.5,125.2 1006.5,121.3 1005.5,120.9 1004.5,130.3 1003.5,123.7 1002.5,127.0 1001.5,125.0 1000.5,130.9 999.5,123.7 998.5,121.9 997.5,123.2 996.5,124.4 995.5,121.2 994.5,125.0 993.5,127.8 992.5,128.5 991.5,114.8 990.5,118.5 989.5,124.5 988.5,127.7 987.5,127.4 986.5,122.7 985.5,126.3 984.5,117.5 983.5,121.9 982.5,123.4 981.5,123.3 980.5,127.4 979.5,130.5 978.5,133.6 977.5,127.3 976.5,129.8 975.5,128.0 974.5,133.3 973.5,130.7 972.5,142.1 971.5,159.0 970.5,154.7 969.5,160.6 968.5,158.0 967.5,158.1 966.5,159.6 965.5,164.0 964.5,155.9 963.5,159.2 962.5,156.6 961.5,160.1 960.5,153.4 959.5,151.6 958.5,148.3 957.5,155.5 956.5,159.1 955.5,155.7 954.5,153.2 953.5,152.8 952.5,148.8 951.5,156.8 950.5,160.3 949.5,152.2 948.5,155.7 947.5,153.2 946.5,152.8 945.5,157.2 944.5,154.8 943.5,157.2 942.5,157.3 941.5,153.4 940.5,151.4 939.5,151.9 938.5,160.0 937.5,159.1 936.5,162.9 935.5,159.1 934.5,161.7 933.5,153.3 932.5,151.2 931.5,150.0 930.5,149.5 929.5,151.9 928.5,149.0 927.5,154.9 926.5,151.1 925.5,146.2 924.5,136.4 923.5,149.0 922.5,140.9 921.5,121.2 920.5,129.1 919.5,131.3 918.5,136.4 917.5,136.8 916.5,132.2 915.5,132.9 914.5,132.1 913.5,134.6 912.5,138.1 911.5,133.2 910.5,130.4 909.5,129.9 908.5,126.5 907.5,121.6 906.5,126.2 905.5,130.0 904.5,115.1 903.5,121.5 902.5,118.4 901.5,123.2 900.5,128.4 899.5,125.1 898.5,126.7 897.5,129.9 896.5,124.0 895.5,129.0 894.5,127.9 893.5,125.6 892.5,125.5 891.5,125.4 890.5,129.8 889.5,131.5 888.5,128.7 887.5,126.7 886.5,129.3 885.5,128.0 884.5,126.6 883.5,126.1 882.5,126.6 881.5,127.5 880.5,124.6 879.5,136.0 878.5,129.9 877.5,130.4 876.5,128.5 875.5,127.5 874.5,128.0 873.5,152.7 872.5,155.5 871.5,160.7 870.5,152.1 869.5,152.6 868.5,153.8 867.5,159.4 866.5,166.4 865.5,164.4 864.5,163.2 863.5,150.5 862.5,152.0 861.5,154.1 860.5,155.1 859.5,158.4 858.5,154.7 857.5,151.4 856.5,154.2 855.5,156.0 854.5,152.3 853.5,157.0 852.5,152.1 851.5,155.5 850.5,160.6 849.5,156.6 848.5,160.1 847.5,159.0 846.5,154.3 845.5,159.4 844.5,157.2 843.5,161.4 842.5,161.8 841.5,157.6 840.5,154.3 839.5,158.4 838.5,146.8 837.5,155.1 836.5,150.2 835.5,148.6 834.5,148.3 833.5,142.5 832.5,151.0 831.5,147.5 830.5,150.4 829.5,155.4 828.5,158.5 827.5,146.6 826.5,139.3 825.5,144.4 824.5,125.4 823.5,125.0 822.5,126.0 821.5,116.7 820.5,121.8 819.5,116.8 818.5,118.7 817.5,120.5 816.5,122.8 815.5,120.6 814.5,124.1 813.5,121.4 812.5,124.9 811.5,131.1 810.5,128.5 809.5,123.6 808.5,124.2 807.5,127.5 806.5,126.6 805.5,123.5 804.5,128.0 803.5,125.3 802.5,123.1 801.5,133.6 800.5,129.7 799.5,128.1 798.5,135.8 797.5,127.4 796.5,127.9 795.5,121.2 794.5,120.1 793.5,130.3 792.5,128.7 791.5,126.1 790.5,132.9 789.5,128.7 788.5,125.1 787.5,131.4 786.5,121.2 785.5,122.6 784.5,119.4 783.5,121.8 782.5,130.2 781.5,124.7 780.5,121.4 779.5,126.4 778.5,126.6 777.5,129.3 776.5,134.4 775.5,151.6 774.5,155.5 773.5,159.6 772.5,160.9 771.5,151.8 770.5,161.2 769.5,155.0 768.5,155.4 767.5,146.8 766.5,154.7 765.5,142.8 764.5,139.8 763.5,136.5 762.5,149.3 761.5,143.2 760.5,143.7 759.5,143.9 758.5,145.3 757.5,145.8 756.5,139.8 755.5,144.6 754.5,140.1 753.5,143.7 752.5,148.5 751.5,146.6 750.5,144.5 749.5,153.1 748.5,148.1 747.5,148.7 746.5,147.6 745.5,147.2 744.5,151.0"/>
<polygon fill="#ff3a3a" fill-opacity="1.0"  points="744.5,128.6 745.5,121.9 746.5,126.8 747.5,118.8 748.5,110.6 749.5,118.8 750.5,123.0 751.5,122.1 752.5,120.5 753.5,116.0 754.5,116.8 755.5,121.6 756.5,122.9 757.5,118.4 758.5,116.3 759.5,119.2 760.5,113.6 761.5,117.9 762.5,123.1 763.5,124.1 764.5,134.7 765.5,126.7 766.5,128.0 767.5,137.6 768.5,142.4 769.5,137.2 770.5,132.2 771.5,131.0 772.5,134.3 773.5,139.1 774.5,137.3 775.5,139.5 776.5,100.9 777.5,91.7 778.5,80.4 779.5,74.5 780.5,72.7 781.5,64.6 782.5,65.1 783.5,64.8 784.5,62.5 785.5,61.0 786.5,64.4 787.5,61.0 788.5,55.9 789.5,49.4 790.5,53.3 791.5,56.4 792.5,51.2 793.5,51.9 794.5,56.3 795.5,53.2 796.5,47.2 797.5,48.6 798.5,43.7 799.5,51.2 800.5,52.2 801.5,48.2 802.5,60.5 803.5,52.7 804.5,49.9 805.5,52.6 806.5,60.7 807.5,58.3 808.5,57.9 809.5,57.1 810.5,60.3 811.5,58.3 812.5,66.7 813.5,65.5 814.5,64.0 815.5,62.1 816.5,65.3 817.5,55.6 818.5,52.5 819.5,60.2 820.5,55.7 821.5,64.2 822.5,60.4 823.5,58.8 824.5,60.8 825.5,89.9 826.5,99.4 827.5,95.1 828.5,100.7 829.5,101.7 830.5,110.1 831.5,107.2 832.5,106.2 833.5,106.8 834.5,107.8 835.5,110.0 836.5,109.2 837.5,107.3 838.5,104.8 839.5,113.9 840.5,120.0 841.5,118.1 842.5,125.2 843.5,121.7 844.5,125.1 845.5,126.0 846.5,121.4 847.5,128.7 848.5,124.8 849.5,128.0 850.5,121.4 851.5,124.0 852.5,128.6 853.5,128.9 854.5,132.5 855.5,137.9 856.5,135.4 857.5,127.7 858.5,123.4 859.5,133.8 860.5,138.9 861.5,141.4 862.5,146.4 863.5,144.3 864.5,143.0 865.5,152.5 866.5,141.1 867.5,141.9 868.5,148.2 869.5,149.4 870.5,149.8 871.5,143.2 872.5,139.5 873.5,142.3 874.5,93.0 875.5,90.1 876.5,91.1 877.5,86.0 878.5,74.8 879.5,77.0 880.5,71.5 881.5,72.0 882.5,77.4 883.5,69.1 884.5,76.2 885.5,71.2 886.5,69.9 887.5,73.8 888.5,74.4 889.5,73.1 890.5,72.3 891.5,67.8 892.5,79.6 893.5,71.0 894.5,70.1 895.5,62.3 896.5,66.0 897.5,68.3 898.5,61.0 899.5,61.2 900.5,61.8 901.5,62.2 902.5,65.9 903.5,65.0 904.5,56.2 905.5,64.7 906.5,57.4 907.5,65.9 908.5,66.3 909.5,62.3 910.5,68.4 911.5,66.9 912.5,61.5 913.5,62.3 914.5,67.6 915.5,67.6 916.5,67.5 917.5,67.4 918.5,62.4 919.5,69.9 920.5,78.2 921.5,69.5 922.5,98.0 923.5,95.3 924.5,104.7 925.5,109.5 926.5,115.9 927.5,121.4 928.5,113.9 929.5,113.8 930.5,115.6 931.5,113.5 932.5,118.1 933.5,123.2 934.5,120.3 935.5,123.0 936.5,120.5 937.5,126.8 938.5,122.1 939.5,125.3 940.5,120.8 941.5,132.7 942.5,129.5 943.5,132.1 944.5,130.3 945.5,125.4 946.5,126.4 947.5,128.3 948.5,138.0 949.5,130.1 950.5,123.1 951.5,128.3 952.5,127.8 953.5,132.9 954.5,131.5 955.5,131.8 956.5,134.1 957.5,141.0 958.5,141.1 959.5,134.3 960.5,138.4 961.5,139.5 962.5,145.4 963.5,139.2 964.5,143.8 965.5,141.3 966.5,145.2 967.5,146.2 968.5,138.7 969.5,145.3 970.5,138.3 971.5,144.3 972.5,124.9 973.5,104.1 974.5,102.6 975.5,107.1 976.5,100.5 977.5,100.5 978.5,102.7 979.5,96.8 980.5,95.3 981.5,87.9 982.5,93.7 983.5,94.5 984.5,83.6 985.5,84.4 986.5,92.4 987.5,83.6 988.5,76.4 989.5,87.8 990.5,78.9 991.5,84.0 992.5,83.6 993.5,86.3 994.5,80.3 995.5,74.3 996.5,75.7 997.5,71.9 998.5,68.0 999.5,71.4 1000.5,74.5 1001.5,71.8 1002.5,69.6 1003.5,69.2 1004.5,64.5 1005.5,70.7 1006.5,62.2 1007.5,65.4 1008.5,60.1 1009.5,63.0 1010.5,55.2 1011.5,66.8 1012.5,74.0 1013.5,67.6 1014.5,75.1 1015.5,64.6 1016.5,67.4 1017.5,77.3 1018.5,68.4 1019.5,91.2 1020.5,106.8 1021.5,107.2 1022.5,109.5 1023.5,119.2 1024.5,116.4 1025.5,116.1 1026.5,115.2 1027.5,119.4 1028.5,120.1 1029.5,122.8 1030.5,111.9 1031.5,120.9 1032.5,124.7 1033.5,120.7 1034.5,120.8 1035.5,119.8 1036.5,118.1 1037.5,125.8 1038.5,118.0 1039.5,123.6 1040.5,126.1 1041.5,125.6 1042.5,120.3 1043.5,125.0 1044.5,129.2 1045.5,128.9 1046.5,125.3 1047.5,131.2 1048.5,129.0 1049.5,123.3 1050.5,126.6 1051.5,135.1 1052.5,136.0 1053.5,121.6 1054.5,133.4 1055.5,130.5 1056.5,134.4 1057.5,138.3 1058.5,133.5 1059.5,129.7 1060.5,139.7 1061.5,131.1 1062.5,138.5 1063.5,137.0 1064.5,138.4 1065.5,135.3 1066.5,141.6 1067.5,138.3 1068.5,145.9 1069.5,137.0 1070.5,101.5 1071.5,93.4 1072.5,95.8 1073.5,88.1 1074.5,86.6 1075.5,91.8 1076.5,88.9 1077.5,91.4 1078.5,94.9 1079.5,83.4 1080.5,78.6 1081.5,83.0 1082.5,78.8 1083.5,75.5 1084.5,83.7 1085.5,82.2 1086.5,74.7 1087.5,75.6 1088.5,81.4 1089.5,75.8 1090.5,76.2 1091.5,80.3 1092.5,82.8 1093.5,90.8 1094.5,85.7 1095.5,83.9 1096.5,82.2 1097.5,87.2 1098.5,85.5 1099.5,89.2 1100.5,85.4 1101.5,82.0 1102.5,87.4 1103.5,90.9 1104.5,86.6 1105.5,84.8 1106.5,78.1 1107.5,80.9 1108.5,77.0 1109.5,71.9 1110.5,76.3 1111.5,82.1 1112.5,89.5 1113.5,79.7 1114.5,83.3 1115.5,80.9 1116.5,76.2 1117.5,78.9 1118.5,88.8 1119.5,104.9 1120.5,111.2 1121.5,112.1 1122.5,108.7 1123.5,112.9 1124.5,114.5 1125.5,122.7 1126.5,112.9 1127.5,119.0 1128.5,113.0 1129.5,119.4 1130.5,120.4 1131.5,117.0 1132.5,111.9 1133.5,123.5 1134.5,117.4 1135.5,122.4 1136.5,117.8 1137.5,124.4 1138.5,124.6 1139.5,117.2 1140.5,123.5 1141.5,130.0 1142.5,128.9 1143.5,122.8 1144.5,125.1 1145.5,130.7 1146.5,132.8 1147.5,130.9 1148.5,135.0 1149.5,128.2 1150.5,130.4 1151.5,131.7 1152.5,134.5 1153.5,134.4 1154.5,134.5 1155.5,140.3 1156.5,136.0 1157.5,122.1 1158.5,134.3 1159.5,133.2 1160.5,141.6 1161.5,136.3 1162.5,136.4 1163.5,133.0 1164.5,138.4 1165.5,128.5 1166.5,138.5 1167.5,130.4 1168.5,110.2 1169.5,109.1 1170.5,110.6 1171.5,109.4 1172.5,107.9 1173.5,109.4 1174.5,106.1 1175.5,99.0 1176.5,93.7 1177.5,101.3 1178.5,99.5 1179.5,95.9 1180.5,89.4 1181.5,99.8 1182.5,98.8 1183.5,93.9 1184.5,99.4 1185.5,100.5 1186.5,93.9 1187.5,94.3 1188.5,95.3 1189.5,93.2 1190.5,92.5 1191.5,94.5 1192.5,98.1 1193.5,95.6 1194.5,100.1 1195.5,99.4 1196.5,90.2 1197.5,97.1 1198.5,96.5 1199.5,99.6 1200.5,99.0 1201.5,97.0 1202.5,94.9 1203.5,95.4 1204.5,83.6 1205.5,91.3 1206.5,92.2 1207.5,98.9 1208.5,100.9 1209.5,101.0 1210.5,95.8 1211.5,99.0 1212.5,93.5 1213.5,98.2 1214.5,95.2 1215.5,115.0 1216.5,118.9 1217.5,111.0 1218.5,122.1 1219.5,127.9 1220.5,125.6 1221.5,132.4 1222.5,132.0 1223.5,118.8 1224.5,127.0 1225.5,122.3 1226.5,126.2 1227.5,119.8 1228.5,112.4 1229.5,122.3 1230.5,127.1 1230.5,141.0 1229.5,136.2 1228.5,128.4 1227.5,142.8 1226.5,138.2 1225.5,136.7 1224.5,143.6 1223.5,136.6 1222.5,146.3 1221.5,145.2 1220.5,142.9 1219.5,147.8 1218.5,141.0 1217.5,128.1 1216.5,130.0 1215.5,137.1 1214.5,111.9 1213.5,116.2 1212.5,110.4 1211.5,109.6 1210.5,111.7 1209.5,119.4 1208.5,116.8 1207.5,114.5 1206.5,110.5 1205.5,110.2 1204.5,102.9 1203.5,105.6 1202.5,111.0 1201.5,111.1 1200.5,113.9 1199.5,110.7 1198.5,113.9 1197.5,116.3 1196.5,111.9 1195.5,114.1 1194.5,119.7 1193.5,108.4 1192.5,113.6 1191.5,110.9 1190.5,110.5 1189.5,108.8 1188.5,107.3 1187.5,112.8 1186.5,104.9 1185.5,115.2 1184.5,114.5 1183.5,110.9 1182.5,114.7 1181.5,115.6 1180.5,106.1 1179.5,111.6 1178.5,115.8 1177.5,119.6 1176.5,109.5 1175.5,117.3 1174.5,122.2 1173.5,136.3 1172.5,125.5 1171.5,129.0 1170.5,128.1 1169.5,131.1 1168.5,127.1 1167.5,153.3 1166.5,153.4 1165.5,152.1 1164.5,152.7 1163.5,148.0 1162.5,155.5 1161.5,148.2 1160.5,152.8 1159.5,145.7 1158.5,148.9 1157.5,147.4 1156.5,150.9 1155.5,154.7 1154.5,146.3 1153.5,156.0 1152.5,148.2 1151.5,148.2 1150.5,145.0 1149.5,145.0 1148.5,149.6 1147.5,145.6 1146.5,150.6 1145.5,144.3 1144.5,139.4 1143.5,140.5 1142.5,148.7 1141.5,146.7 1140.5,138.0 1139.5,137.3 1138.5,145.5 1137.5,143.0 1136.5,138.5 1135.5,145.7 1134.5,133.8 1133.5,137.3 1132.5,126.9 1131.5,133.0 1130.5,136.0 1129.5,135.0 1128.5,132.9 1127.5,131.1 1126.5,135.0 1125.5,140.6 1124.5,130.9 1123.5,125.6 1122.5,128.7 1121.5,131.5 1120.5,129.7 1119.5,115.5 1118.5,103.4 1117.5,95.3 1116.5,97.0 1115.5,92.2 1114.5,98.0 1113.5,94.8 1112.5,101.3 1111.5,99.6 1110.5,92.4 1109.5,93.2 1108.5,94.8 1107.5,100.0 1106.5,95.7 1105.5,102.1 1104.5,102.4 1103.5,107.5 1102.5,100.8 1101.5,103.7 1100.5,99.9 1099.5,105.5 1098.5,105.1 1097.5,107.6 1096.5,94.4 1095.5,95.0 1094.5,99.5 1093.5,103.5 1092.5,95.1 1091.5,95.8 1090.5,104.7 1089.5,87.5 1088.5,96.0 1087.5,93.5 1086.5,97.1 1085.5,98.0 1084.5,93.5 1083.5,94.6 1082.5,90.2 1081.5,95.3 1080.5,96.7 1079.5,101.1 1078.5,109.6 1077.5,106.6 1076.5,105.9 1075.5,105.5 1074.5,106.9 1073.5,104.7 1072.5,108.1 1071.5,107.9 1070.5,112.4 1069.5,157.3 1068.5,158.7 1067.5,158.9 1066.5,152.3 1065.5,152.0 1064.5,156.0 1063.5,152.1 1062.5,153.8 1061.5,145.1 1060.5,153.8 1059.5,153.8 1058.5,148.0 1057.5,151.2 1056.5,151.0 1055.5,141.0 1054.5,144.9 1053.5,137.0 1052.5,151.8 1051.5,147.7 1050.5,143.4 1049.5,139.5 1048.5,144.2 1047.5,144.0 1046.5,140.0 1045.5,145.6 1044.5,141.7 1043.5,145.1 1042.5,142.2 1041.5,137.1 1040.5,135.0 1039.5,138.5 1038.5,139.9 1037.5,144.5 1036.5,138.2 1035.5,138.4 1034.5,140.8 1033.5,136.0 1032.5,141.3 1031.5,136.1 1030.5,132.8 1029.5,139.5 1028.5,136.1 1027.5,137.6 1026.5,134.6 1025.5,138.3 1024.5,129.4 1023.5,131.0 1022.5,128.5 1021.5,128.2 1020.5,117.6 1019.5,103.8 1018.5,81.4 1017.5,93.2 1016.5,82.8 1015.5,83.5 1014.5,87.7 1013.5,86.2 1012.5,86.5 1011.5,82.0 1010.5,74.1 1009.5,80.0 1008.5,72.9 1007.5,80.6 1006.5,78.7 1005.5,84.3 1004.5,82.1 1003.5,80.8 1002.5,86.5 1001.5,81.4 1000.5,88.8 999.5,87.6 998.5,89.5 997.5,84.6 996.5,90.9 995.5,91.7 994.5,100.6 993.5,99.7 992.5,104.0 991.5,96.8 990.5,97.4 989.5,102.5 988.5,96.4 987.5,102.9 986.5,100.1 985.5,102.8 984.5,105.5 983.5,105.7 982.5,107.5 981.5,104.3 980.5,104.4 979.5,112.5 978.5,116.1 977.5,117.7 976.5,112.4 975.5,118.6 974.5,118.8 973.5,116.4 972.5,141.9 971.5,158.4 970.5,150.4 969.5,159.6 968.5,157.4 967.5,163.2 966.5,163.7 965.5,164.5 964.5,157.7 963.5,159.9 962.5,156.1 961.5,154.6 960.5,151.3 959.5,151.2 958.5,156.2 957.5,155.5 956.5,153.7 955.5,148.7 954.5,142.1 953.5,146.8 952.5,142.7 951.5,142.7 950.5,145.7 949.5,145.2 948.5,149.0 947.5,141.9 946.5,144.6 945.5,143.7 944.5,147.4 943.5,144.8 942.5,146.5 941.5,146.2 940.5,140.4 939.5,143.4 938.5,136.9 937.5,142.0 936.5,137.4 935.5,140.2 934.5,140.0 933.5,139.3 932.5,135.2 931.5,131.4 930.5,132.2 929.5,127.5 928.5,132.6 927.5,139.1 926.5,132.6 925.5,122.7 924.5,120.3 923.5,116.7 922.5,121.2 921.5,85.9 920.5,91.6 919.5,89.3 918.5,82.5 917.5,80.2 916.5,87.3 915.5,84.3 914.5,80.2 913.5,80.5 912.5,77.6 911.5,80.9 910.5,81.1 909.5,76.5 908.5,81.7 907.5,83.8 906.5,77.8 905.5,80.5 904.5,74.2 903.5,76.9 902.5,84.5 901.5,77.6 900.5,82.5 899.5,78.8 898.5,80.3 897.5,81.6 896.5,82.5 895.5,82.6 894.5,91.1 893.5,86.3 892.5,92.3 891.5,93.9 890.5,84.2 889.5,86.7 888.5,88.3 887.5,90.0 886.5,87.2 885.5,88.5 884.5,90.1 883.5,82.8 882.5,93.3 881.5,89.6 880.5,88.6 879.5,89.8 878.5,90.1 877.5,100.2 876.5,103.7 875.5,105.3 874.5,116.6 873.5,161.4 872.5,163.8 871.5,160.5 870.5,169.5 869.5,158.9 868.5,161.9 867.5,155.0 866.5,161.5 865.5,165.6 864.5,157.1 863.5,158.3 862.5,158.5 861.5,157.4 860.5,153.9 859.5,153.7 858.5,145.2 857.5,137.7 856.5,152.1 855.5,154.2 854.5,144.9 853.5,143.5 852.5,145.7 851.5,143.4 850.5,138.2 849.5,143.4 848.5,144.4 847.5,140.2 846.5,140.3 845.5,141.8 844.5,140.4 843.5,137.6 842.5,141.0 841.5,133.9 840.5,132.1 839.5,139.5 838.5,126.6 837.5,120.2 836.5,121.8 835.5,128.4 834.5,120.5 833.5,127.7 832.5,124.5 831.5,120.6 830.5,128.5 829.5,119.3 828.5,121.2 827.5,112.8 826.5,112.9 825.5,107.5 824.5,80.6 823.5,77.4 822.5,75.1 821.5,76.5 820.5,73.5 819.5,78.8 818.5,75.8 817.5,72.6 816.5,76.7 815.5,77.3 814.5,82.7 813.5,83.9 812.5,81.1 811.5,80.4 810.5,76.6 809.5,72.6 808.5,74.4 807.5,75.5 806.5,72.5 805.5,78.2 804.5,67.5 803.5,67.8 802.5,74.9 801.5,63.4 800.5,71.1 799.5,68.0 798.5,68.5 797.5,65.4 796.5,64.7 795.5,70.5 794.5,65.2 793.5,69.9 792.5,71.7 791.5,72.8 790.5,72.7 789.5,64.9 788.5,67.2 787.5,70.8 786.5,76.1 785.5,76.7 784.5,79.9 783.5,82.3 782.5,80.6 781.5,86.6 780.5,86.3 779.5,93.0 778.5,100.2 777.5,111.0 776.5,114.1 775.5,152.0 774.5,151.5 773.5,153.0 772.5,148.4 771.5,145.9 770.5,151.0 769.5,150.4 768.5,161.3 767.5,153.3 766.5,147.2 765.5,143.1 764.5,150.7 763.5,140.0 762.5,140.4 761.5,133.7 760.5,128.5 759.5,132.5 758.5,135.6 757.5,135.9 756.5,134.4 755.5,134.2 754.5,129.7 753.5,132.8 752.5,138.7 751.5,140.9 750.5,136.5 749.5,132.6 748.5,137.2 747.5,135.8 746.5,139.2 745.5,140.3 744.5,140.3"/>
<polygon fill="#0a6fe0" fill-opacity="1.0"  points="744.5,137.7 745.5,137.1 746.5,138.7 747.5,133.4 748.5,137.0 749.5,139.4 750.5,139.2 751.5,134.8 752.5,134.9 753.5,138.7 754.5,137.2 755.5,139.4 756.5,137.9 757.5,128.5 758.5,140.1 759.5,137.8 760.5,145.2 761.5,140.4 762.5,140.9 763.5,146.7 764.5,147.8 765.5,149.8 766.5,149.3 767.5,148.6 768.5,146.9 769.5,152.7 770.5,148.3 771.5,144.2 772.5,144.0 773.5,147.5 774.5,152.3 775.5,149.9 776.5,119.5 777.5,102.6 778.5,107.3 779.5,99.2 780.5,102.4 781.5,82.4 782.5,91.0 783.5,91.6 784.5,86.8 785.5,95.4 786.5,87.1 787.5,85.8 788.5,82.9 789.5,80.4 790.5,76.9 791.5,87.7 792.5,83.3 793.5,81.2 794.5,79.9 795.5,85.6 796.5,87.1 797.5,83.2 798.5,76.9 799.5,82.7 800.5,81.8 801.5,84.3 802.5,75.7 803.5,86.2 804.5,91.5 805.5,81.2 806.5,83.1 807.5,89.0 808.5,90.3 809.5,89.9 810.5,90.6 811.5,86.9 812.5,89.8 813.5,83.2 814.5,81.9 815.5,92.6 816.5,91.9 817.5,83.5 818.5,89.1 819.5,88.6 820.5,92.5 821.5,75.2 822.5,84.0 823.5,87.0 824.5,88.7 825.5,111.4 826.5,117.0 827.5,117.3 828.5,113.7 829.5,116.8 830.5,125.9 831.5,128.4 832.5,129.4 833.5,125.2 834.5,131.9 835.5,125.1 836.5,125.7 837.5,132.6 838.5,132.6 839.5,128.2 840.5,132.0 841.5,132.8 842.5,134.7 843.5,137.6 844.5,135.8 845.5,134.7 846.5,139.8 847.5,134.1 848.5,133.4 849.5,135.1 850.5,130.4 851.5,132.6 852.5,132.2 853.5,130.3 854.5,139.3 855.5,138.0 856.5,132.4 857.5,131.0 858.5,131.0 859.5,137.4 860.5,133.3 861.5,134.8 862.5,140.2 863.5,139.3 864.5,143.3 865.5,144.9 866.5,145.0 867.5,138.8 868.5,142.4 869.5,142.2 870.5,143.1 871.5,143.6 872.5,142.0 873.5,145.4 874.5,108.4 875.5,102.2 876.5,99.6 877.5,93.2 878.5,90.4 879.5,100.7 880.5,96.5 881.5,90.6 882.5,90.3 883.5,96.3 884.5,83.9 885.5,84.0 886.5,92.2 887.5,92.5 888.5,93.7 889.5,92.1 890.5,89.6 891.5,92.7 892.5,89.9 893.5,92.0 894.5,99.4 895.5,97.8 896.5,96.0 897.5,95.7 898.5,98.4 899.5,96.1 900.5,94.0 901.5,95.1 902.5,86.3 903.5,83.9 904.5,88.4 905.5,86.0 906.5,79.8 907.5,88.0 908.5,88.8 909.5,87.9 910.5,93.0 911.5,86.4 912.5,84.5 913.5,79.6 914.5,86.6 915.5,84.3 916.5,89.9 917.5,87.6 918.5,86.1 919.5,85.1 920.5,89.6 921.5,77.3 922.5,111.1 923.5,112.6 924.5,118.5 925.5,119.8 926.5,129.4 927.5,127.8 928.5,133.0 929.5,134.2 930.5,137.0 931.5,131.6 932.5,128.2 933.5,134.7 934.5,129.1 935.5,128.5 936.5,138.5 937.5,133.0 938.5,132.4 939.5,138.9 940.5,135.4 941.5,138.0 942.5,134.1 943.5,138.2 944.5,141.2 945.5,140.9 946.5,132.9 947.5,134.7 948.5,135.0 949.5,140.3 950.5,136.2 951.5,138.9 952.5,140.9 953.5,144.0 954.5,140.1 955.5,140.3 956.5,141.0 957.5,144.8 958.5,144.1 959.5,150.7 960.5,152.5 961.5,144.4 962.5,144.6 963.5,150.6 964.5,146.3 965.5,148.0 966.5,153.7 967.5,143.4 968.5,143.4 969.5,148.6 970.5,145.3 971.5,143.2 972.5,131.9 973.5,100.3 974.5,103.7 975.5,100.3 976.5,99.5 977.5,94.1 978.5,88.4 979.5,83.0 980.5,85.6 981.5,86.6 982.5,83.2 983.5,82.3 984.5,80.8 985.5,81.1 986.5,78.0 987.5,76.6 988.5,85.3 989.5,73.5 990.5,80.5 991.5,74.7 992.5,80.6 993.5,80.7 994.5,79.0 995.5,78.4 996.5,84.1 997.5,83.9 998.5,76.2 999.5,78.1 1000.5,85.1 1001.5,84.7 1002.5,85.9 1003.5,86.4 1004.5,81.2 1005.5,84.1 1006.5,84.1 1007.5,82.6 1008.5,73.2 1009.5,83.4 1010.5,86.7 1011.5,85.5 1012.5,94.5 1013.5,85.5 1014.5,83.4 1015.5,80.3 1016.5,84.9 1017.5,78.0 1018.5,83.0 1019.5,89.7 1020.5,112.4 1021.5,117.5 1022.5,122.0 1023.5,115.6 1024.5,127.0 1025.5,125.9 1026.5,132.0 1027.5,128.7 1028.5,136.1 1029.5,135.0 1030.5,137.4 1031.5,134.2 1032.5,132.4 1033.5,134.6 1034.5,129.1 1035.5,131.8 1036.5,130.8 1037.5,129.5 1038.5,138.5 1039.5,132.1 1040.5,132.5 1041.5,132.5 1042.5,135.2 1043.5,129.8 1044.5,142.2 1045.5,145.3 1046.5,140.2 1047.5,146.7 1048.5,137.9 1049.5,144.3 1050.5,134.8 1051.5,144.4 1052.5,141.9 1053.5,141.1 1054.5,138.9 1055.5,143.3 1056.5,142.1 1057.5,141.5 1058.5,141.4 1059.5,145.4 1060.5,145.5 1061.5,144.7 1062.5,146.1 1063.5,148.1 1064.5,150.9 1065.5,146.6 1066.5,141.6 1067.5,146.6 1068.5,137.9 1069.5,140.1 1070.5,105.5 1071.5,105.6 1072.5,102.3 1073.5,104.2 1074.5,102.1 1075.5,100.5 1076.5,99.1 1077.5,98.1 1078.5,102.2 1079.5,93.3 1080.5,98.0 1081.5,93.5 1082.5,95.3 1083.5,99.1 1084.5,103.6 1085.5,95.0 1086.5,94.9 1087.5,99.8 1088.5,90.9 1089.5,95.8 1090.5,97.1 1091.5,94.0 1092.5,89.4 1093.5,100.5 1094.5,92.8 1095.5,94.9 1096.5,96.5 1097.5,101.8 1098.5,101.0 1099.5,102.5 1100.5,94.0 1101.5,103.2 1102.5,100.2 1103.5,102.8 1104.5,96.6 1105.5,98.1 1106.5,95.5 1107.5,90.5 1108.5,98.8 1109.5,91.4 1110.5,87.0 1111.5,89.6 1112.5,94.2 1113.5,90.8 1114.5,81.2 1115.5,94.7 1116.5,84.9 1117.5,92.3 1118.5,100.0 1119.5,113.0 1120.5,104.2 1121.5,115.9 1122.5,122.4 1123.5,125.9 1124.5,127.7 1125.5,125.7 1126.5,122.4 1127.5,124.5 1128.5,122.9 1129.5,124.9 1130.5,123.5 1131.5,122.8 1132.5,126.3 1133.5,125.6 1134.5,129.6 1135.5,126.9 1136.5,127.3 1137.5,124.5 1138.5,126.1 1139.5,123.0 1140.5,123.9 1141.5,129.6 1142.5,130.5 1143.5,133.4 1144.5,132.3 1145.5,130.4 1146.5,133.0 1147.5,121.4 1148.5,131.9 1149.5,129.5 1150.5,127.4 1151.5,127.6 1152.5,133.4 1153.5,132.4 1154.5,130.2 1155.5,128.2 1156.5,133.6 1157.5,135.8 1158.5,132.6 1159.5,135.4 1160.5,137.3 1161.5,137.1 1162.5,135.6 1163.5,135.3 1164.5,131.5 1165.5,135.1 1166.5,135.6 1167.5,132.2 1168.5,88.3 1169.5,95.4 1170.5,92.9 1171.5,96.7 1172.5,96.9 1173.5,95.6 1174.5,91.3 1175.5,90.3 1176.5,89.8 1177.5,85.8 1178.5,89.8 1179.5,78.8 1180.5,88.5 1181.5,81.6 1182.5,81.2 1183.5,88.7 1184.5,86.4 1185.5,84.4 1186.5,85.6 1187.5,88.0 1188.5,89.2 1189.5,87.1 1190.5,84.6 1191.5,87.8 1192.5,89.4 1193.5,90.0 1194.5,84.9 1195.5,87.3 1196.5,91.5 1197.5,94.4 1198.5,89.7 1199.5,85.6 1200.5,89.0 1201.5,92.6 1202.5,84.1 1203.5,92.3 1204.5,87.1 1205.5,95.4 1206.5,90.2 1207.5,95.9 1208.5,89.4 1209.5,87.8 1210.5,91.4 1211.5,95.0 1212.5,87.2 1213.5,92.0 1214.5,89.6 1215.5,103.4 1216.5,102.0 1217.5,108.3 1218.5,110.1 1219.5,111.8 1220.5,117.0 1221.5,114.6 1222.5,115.1 1223.5,110.6 1224.5,120.1 1225.5,120.8 1226.5,122.8 1227.5,122.3 1228.5,129.5 1229.5,135.7 1230.5,130.0 1230.5,146.5 1229.5,154.1 1228.5,142.9 1227.5,141.6 1226.5,134.5 1225.5,137.9 1224.5,132.5 1223.5,129.1 1222.5,130.5 1221.5,130.3 1220.5,132.0 1219.5,125.7 1218.5,123.9 1217.5,122.1 1216.5,125.1 1215.5,128.6 1214.5,103.9 1213.5,104.2 1212.5,102.8 1211.5,107.3 1210.5,102.8 1209.5,105.7 1208.5,103.5 1207.5,108.4 1206.5,100.4 1205.5,106.1 1204.5,107.5 1203.5,104.8 1202.5,106.7 1201.5,109.2 1200.5,103.4 1199.5,98.0 1198.5,105.8 1197.5,111.7 1196.5,101.9 1195.5,100.2 1194.5,102.8 1193.5,100.6 1192.5,106.2 1191.5,99.1 1190.5,104.7 1189.5,101.4 1188.5,108.7 1187.5,105.3 1186.5,96.7 1185.5,98.8 1184.5,99.8 1183.5,100.7 1182.5,99.3 1181.5,96.1 1180.5,104.5 1179.5,99.5 1178.5,106.2 1177.5,105.9 1176.5,106.1 1175.5,104.8 1174.5,111.6 1173.5,107.7 1172.5,109.5 1171.5,111.5 1170.5,109.4 1169.5,110.2 1168.5,101.9 1167.5,149.8 1166.5,147.5 1165.5,146.7 1164.5,144.8 1163.5,152.5 1162.5,145.8 1161.5,151.5 1160.5,151.7 1159.5,148.7 1158.5,149.9 1157.5,147.9 1156.5,149.9 1155.5,144.9 1154.5,145.7 1153.5,144.2 1152.5,144.4 1151.5,140.7 1150.5,143.8 1149.5,139.3 1148.5,142.4 1147.5,142.8 1146.5,145.2 1145.5,144.3 1144.5,146.8 1143.5,152.9 1142.5,148.1 1141.5,142.1 1140.5,138.1 1139.5,141.7 1138.5,140.4 1137.5,138.2 1136.5,143.2 1135.5,138.3 1134.5,142.7 1133.5,139.1 1132.5,136.4 1131.5,139.0 1130.5,137.3 1129.5,139.4 1128.5,136.0 1127.5,141.6 1126.5,137.2 1125.5,142.2 1124.5,138.3 1123.5,142.3 1122.5,134.7 1121.5,134.8 1120.5,126.7 1119.5,131.1 1118.5,113.6 1117.5,107.5 1116.5,103.7 1115.5,106.4 1114.5,101.4 1113.5,104.5 1112.5,110.4 1111.5,106.7 1110.5,107.3 1109.5,108.0 1108.5,117.1 1107.5,110.2 1106.5,110.0 1105.5,107.8 1104.5,113.1 1103.5,120.8 1102.5,117.2 1101.5,120.2 1100.5,109.9 1099.5,114.7 1098.5,113.8 1097.5,117.1 1096.5,120.2 1095.5,106.5 1094.5,107.0 1093.5,116.6 1092.5,106.7 1091.5,111.3 1090.5,117.0 1089.5,115.6 1088.5,108.5 1087.5,113.9 1086.5,110.9 1085.5,107.2 1084.5,112.9 1083.5,110.7 1082.5,110.5 1081.5,106.6 1080.5,108.3 1079.5,113.7 1078.5,114.2 1077.5,117.9 1076.5,110.7 1075.5,115.2 1074.5,110.7 1073.5,115.7 1072.5,119.1 1071.5,120.5 1070.5,115.6 1069.5,152.8 1068.5,156.2 1067.5,159.1 1066.5,156.3 1065.5,163.1 1064.5,166.2 1063.5,165.4 1062.5,167.0 1061.5,160.8 1060.5,162.2 1059.5,157.4 1058.5,163.4 1057.5,156.3 1056.5,161.3 1055.5,158.5 1054.5,151.8 1053.5,153.3 1052.5,159.7 1051.5,158.6 1050.5,153.3 1049.5,160.6 1048.5,155.8 1047.5,158.0 1046.5,158.8 1045.5,158.1 1044.5,153.5 1043.5,150.1 1042.5,147.4 1041.5,146.5 1040.5,146.0 1039.5,143.5 1038.5,153.4 1037.5,151.1 1036.5,151.0 1035.5,149.1 1034.5,148.7 1033.5,150.6 1032.5,145.7 1031.5,149.3 1030.5,146.4 1029.5,149.6 1028.5,146.8 1027.5,143.6 1026.5,148.1 1025.5,139.4 1024.5,138.6 1023.5,133.1 1022.5,141.3 1021.5,134.8 1020.5,134.7 1019.5,107.0 1018.5,95.8 1017.5,97.7 1016.5,100.9 1015.5,94.1 1014.5,97.1 1013.5,107.4 1012.5,109.8 1011.5,100.2 1010.5,100.7 1009.5,101.4 1008.5,90.7 1007.5,103.2 1006.5,97.2 1005.5,101.9 1004.5,97.7 1003.5,100.4 1002.5,99.4 1001.5,98.1 1000.5,101.4 999.5,95.0 998.5,91.8 997.5,96.7 996.5,97.1 995.5,93.5 994.5,91.9 993.5,99.6 992.5,95.8 991.5,95.7 990.5,95.2 989.5,91.9 988.5,100.5 987.5,93.2 986.5,92.6 985.5,93.0 984.5,100.0 983.5,96.1 982.5,101.1 981.5,98.7 980.5,105.5 979.5,98.2 978.5,103.4 977.5,107.5 976.5,111.3 975.5,115.7 974.5,111.9 973.5,117.2 972.5,147.3 971.5,165.1 970.5,159.9 969.5,159.7 968.5,161.0 967.5,160.1 966.5,164.1 965.5,163.1 964.5,159.0 963.5,163.4 962.5,160.6 961.5,158.0 960.5,165.3 959.5,162.4 958.5,160.7 957.5,158.9 956.5,156.2 955.5,157.4 954.5,158.8 953.5,158.0 952.5,153.5 951.5,155.2 950.5,153.0 949.5,152.7 948.5,149.0 947.5,148.1 946.5,146.9 945.5,152.6 944.5,157.5 943.5,150.1 942.5,152.3 941.5,153.0 940.5,150.8 939.5,148.2 938.5,145.7 937.5,143.1 936.5,154.0 935.5,144.7 934.5,143.5 933.5,151.2 932.5,145.2 931.5,150.2 930.5,151.5 929.5,150.9 928.5,147.9 927.5,143.3 926.5,142.9 925.5,132.5 924.5,132.6 923.5,127.6 922.5,122.1 921.5,94.2 920.5,102.6 919.5,97.0 918.5,99.0 917.5,103.6 916.5,104.7 915.5,100.6 914.5,104.9 913.5,101.0 912.5,96.9 911.5,105.6 910.5,104.8 909.5,98.8 908.5,100.2 907.5,100.7 906.5,91.8 905.5,99.9 904.5,105.1 903.5,99.8 902.5,101.3 901.5,116.1 900.5,108.5 899.5,108.2 898.5,110.9 897.5,114.0 896.5,110.0 895.5,109.2 894.5,113.7 893.5,110.5 892.5,106.6 891.5,108.4 890.5,106.8 889.5,108.7 888.5,109.4 887.5,106.1 886.5,109.2 885.5,102.1 884.5,97.7 883.5,107.5 882.5,103.8 881.5,104.6 880.5,114.0 879.5,111.9 878.5,104.1 877.5,108.6 876.5,114.1 875.5,123.4 874.5,123.5 873.5,159.4 872.5,154.3 871.5,158.2 870.5,159.1 869.5,156.5 868.5,155.2 867.5,150.4 866.5,158.6 865.5,155.2 864.5,155.6 863.5,152.4 862.5,151.1 861.5,149.0 860.5,148.5 859.5,154.0 858.5,149.1 857.5,147.1 856.5,148.2 855.5,149.9 854.5,152.9 853.5,143.1 852.5,142.7 851.5,148.3 850.5,147.8 849.5,157.7 848.5,152.3 847.5,148.1 846.5,154.4 845.5,153.2 844.5,149.2 843.5,150.6 842.5,148.8 841.5,145.5 840.5,148.6 839.5,148.5 838.5,148.0 837.5,149.5 836.5,142.1 835.5,139.5 834.5,144.3 833.5,138.2 832.5,145.5 831.5,141.5 830.5,139.5 829.5,128.7 828.5,133.3 827.5,130.8 826.5,129.4 825.5,129.5 824.5,102.1 823.5,101.1 822.5,97.0 821.5,94.7 820.5,106.5 819.5,103.9 818.5,104.8 817.5,100.4 816.5,107.3 815.5,110.5 814.5,99.0 813.5,96.3 812.5,105.2 811.5,104.9 810.5,103.6 809.5,99.0 808.5,105.5 807.5,99.8 806.5,100.0 805.5,97.8 804.5,103.1 803.5,98.9 802.5,90.5 801.5,101.2 800.5,96.0 799.5,92.5 798.5,94.6 797.5,97.2 796.5,103.5 795.5,98.8 794.5,99.9 793.5,96.2 792.5,100.3 791.5,100.9 790.5,97.2 789.5,101.4 788.5,96.7 787.5,101.9 786.5,105.4 785.5,108.6 784.5,105.4 783.5,102.9 782.5,104.9 781.5,108.1 780.5,115.3 779.5,115.5 778.5,122.9 777.5,131.8 776.5,128.2 775.5,165.2 774.5,169.3 773.5,163.5 772.5,159.9 771.5,157.4 770.5,161.2 769.5,161.6 768.5,163.6 767.5,164.6 766.5,160.4 765.5,162.6 764.5,163.0 763.5,161.3 762.5,150.3 761.5,152.4 760.5,155.3 759.5,148.3 758.5,151.9 757.5,142.0 756.5,151.8 755.5,156.0 754.5,148.0 753.5,149.9 752.5,147.7 751.5,147.5 750.5,157.4 749.5,150.9 748.5,152.1 747.5,153.1 746.5,150.1 745.5,152.3 744.5,150.2"/>
<rect x="743" y="25" width="489.5" height="159" fill="none" stroke="#111" stroke-width="3.5"/>
<line x1="743" y1="109.1" x2="749" y2="109.1" stroke="#2a2a2a" stroke-width="2.5"/>
<line x1="743" y1="34.2" x2="749" y2="34.2" stroke="#2a2a2a" stroke-width="2.5"/>
<line x1="743" y1="146.55" x2="746.5" y2="146.55" stroke="#2a2a2a" stroke-width="2.5"/>
<line x1="743" y1="71.65" x2="746.5" y2="71.65" stroke="#2a2a2a" stroke-width="2.5"/>
<line x1="840.9" y1="184" x2="840.9" y2="178" stroke="#2a2a2a" stroke-width="2.5"/>
<line x1="938.8" y1="184" x2="938.8" y2="178" stroke="#2a2a2a" stroke-width="2.5"/>
<line x1="1036.7" y1="184" x2="1036.7" y2="178" stroke="#2a2a2a" stroke-width="2.5"/>
<line x1="1134.6" y1="184" x2="1134.6" y2="178" stroke="#2a2a2a" stroke-width="2.5"/>
<line x1="791.95" y1="184" x2="791.95" y2="180.5" stroke="#2a2a2a" stroke-width="2.5"/>
<line x1="889.85" y1="184" x2="889.85" y2="180.5" stroke="#2a2a2a" stroke-width="2.5"/>
<line x1="987.75" y1="184" x2="987.75" y2="180.5" stroke="#2a2a2a" stroke-width="2.5"/>
<line x1="1085.65" y1="184" x2="1085.65" y2="180.5" stroke="#2a2a2a" stroke-width="2.5"/>
<line x1="1183.55" y1="184" x2="1183.55" y2="180.5" stroke="#2a2a2a" stroke-width="2.5"/>
<text transform="translate(717.61,191.59) scale(0.8200,1)" font-size="22" fill="#333" stroke="#333" stroke-width="0.45">10</text>
<text transform="translate(717.88,116.8) scale(0.8200,1)" font-size="22" fill="#333" stroke="#333" stroke-width="0.45">12</text>
<text transform="translate(717.52,41.79) scale(0.8200,1)" font-size="22" fill="#333" stroke="#333" stroke-width="0.45">14</text>
<text transform="translate(739.46,211.89) scale(0.8500,1)" font-size="22" fill="#333" stroke="#333" stroke-width="0.45" style="">0</text>
<text transform="translate(829.98,211.89) scale(0.8500,1)" font-size="22" fill="#333" stroke="#333" stroke-width="0.45" style="">20</text>
<text transform="translate(928.16,211.89) scale(0.8500,1)" font-size="22" fill="#333" stroke="#333" stroke-width="0.45" style="">40</text>
<text transform="translate(1027.18,211.89) scale(0.8500,1)" font-size="22" fill="#333" stroke="#333" stroke-width="0.45" style="">60</text>
<text transform="translate(1126.13,211.89) scale(0.8500,1)" font-size="22" fill="#333" stroke="#333" stroke-width="0.45" style="">80</text>
<text transform="translate(1219.56,211.89) scale(0.8500,1)" font-size="22" fill="#333" stroke="#333" stroke-width="0.45" style="">100</text>
<text transform="translate(950.13,226.9) scale(0.8492,1)" font-size="21.93" fill="#333" stroke="#333" stroke-width="0.45" style="" >Time (s)</text>
<text transform="translate(709.01,120.44) rotate(-90) scale(1.0994,1)" fill="#333" stroke="#333" stroke-width="0.45"><tspan x="0" y="0" font-size="21.39" style="font-style:italic;">I</tspan><tspan x="5.94" y="0" font-size="21.39" style=""> (μA)</tspan></text>
<text transform="translate(626.19,63.63) scale(1.0498,1)" font-size="44.6" fill="#111" stroke="#111" stroke-width="0" style="" >(b)</text>
<line x1="763.5" y1="43.5" x2="774.5" y2="43.5" stroke="#4a4a4a" stroke-width="3"/>
<text transform="translate(790.23,50.28) scale(0.8889,1)" font-size="21.77" fill="#333" stroke="#333" stroke-width="0.8" style="" >0.03 mW/mm</text>
<text transform="translate(901.84,37) scale(1.2308,1)" font-size="10.71" fill="#333" stroke="#333" stroke-width="0.8" style="" >2</text>
<line x1="923.5" y1="43.5" x2="934.5" y2="43.5" stroke="#0a6fe0" stroke-width="3"/>
<text transform="translate(950.23,50.28) scale(0.8889,1)" font-size="21.77" fill="#333" stroke="#333" stroke-width="0.8" style="" >0.12 mW/mm</text>
<text transform="translate(1061.84,37) scale(1.2308,1)" font-size="10.71" fill="#333" stroke="#333" stroke-width="0.8" style="" >2</text>
<line x1="1083" y1="43.5" x2="1094" y2="43.5" stroke="#ff3a3a" stroke-width="3"/>
<text transform="translate(1109.73,50.28) scale(0.8889,1)" font-size="21.77" fill="#333" stroke="#333" stroke-width="0.8" style="" >0.20 mW/mm</text>
<text transform="translate(1221.34,37) scale(1.2308,1)" font-size="10.71" fill="#333" stroke="#333" stroke-width="0.8" style="" >2</text>
<rect x="741.4" y="277" width="486.6" height="159" fill="none" stroke="#111" stroke-width="4"/>
<line x1="1228" y1="275" x2="1228" y2="438" stroke="#ff2020" stroke-width="3"/>
<line x1="936.04" y1="436" x2="936.04" y2="430" stroke="#111" stroke-width="2.5"/>
<line x1="1130.68" y1="436" x2="1130.68" y2="430" stroke="#111" stroke-width="2.5"/>
<line x1="838.72" y1="436" x2="838.72" y2="432.5" stroke="#111" stroke-width="2.5"/>
<line x1="1033.36" y1="436" x2="1033.36" y2="432.5" stroke="#111" stroke-width="2.5"/>
<line x1="741.4" y1="426.2" x2="747.4" y2="426.2" stroke="#111" stroke-width="2.5"/>
<line x1="741.4" y1="362.1" x2="747.4" y2="362.1" stroke="#111" stroke-width="2.5"/>
<line x1="741.4" y1="298" x2="747.4" y2="298" stroke="#111" stroke-width="2.5"/>
<line x1="741.4" y1="394.15" x2="744.9" y2="394.15" stroke="#111" stroke-width="2.5"/>
<line x1="741.4" y1="330.05" x2="744.9" y2="330.05" stroke="#111" stroke-width="2.5"/>
<line x1="1228" y1="436.8" x2="1222" y2="436.8" stroke="#ff2020" stroke-width="2.5"/>
<line x1="1228" y1="378.8" x2="1222" y2="378.8" stroke="#ff2020" stroke-width="2.5"/>
<line x1="1228" y1="320.8" x2="1222" y2="320.8" stroke="#ff2020" stroke-width="2.5"/>
<line x1="1228" y1="407.8" x2="1224.5" y2="407.8" stroke="#ff2020" stroke-width="2.5"/>
<line x1="1228" y1="349.8" x2="1224.5" y2="349.8" stroke="#ff2020" stroke-width="2.5"/>
<line x1="1228" y1="291.8" x2="1224.5" y2="291.8" stroke="#ff2020" stroke-width="2.5"/>
<text transform="translate(717.13,306.5) scale(0.7800,1)" font-size="25" fill="#333" stroke="#333" stroke-width="0.45">15</text>
<text transform="translate(717.04,370.82) scale(0.7800,1)" font-size="25" fill="#333" stroke="#333" stroke-width="0.45">10</text>
<text transform="translate(727.96,435.5) scale(0.7800,1)" font-size="25" fill="#333" stroke="#333" stroke-width="0.45">5</text>
<text transform="translate(1237.58,445.27) scale(0.9500,1)" font-size="26" fill="#ff2020" stroke="#ff2020" stroke-width="0.45" style="">1</text>
<text transform="translate(1237.95,387.4) scale(0.9500,1)" font-size="26" fill="#ff2020" stroke="#ff2020" stroke-width="0.45" style="">2</text>
<text transform="translate(1237.95,329.27) scale(0.9500,1)" font-size="26" fill="#ff2020" stroke="#ff2020" stroke-width="0.45" style="">3</text>
<text transform="translate(728.58,470.77) scale(0.7400,1)" font-size="26" fill="#333" stroke="#333" stroke-width="0.45" style="">0.0</text>
<text transform="translate(923.28,470.77) scale(0.7400,1)" font-size="26" fill="#333" stroke="#333" stroke-width="0.45" style="">0.1</text>
<text transform="translate(1120.72,470.77) scale(0.7400,1)" font-size="26" fill="#333" stroke="#333" stroke-width="0.45" style="">0.2</text>
<text transform="translate(626.84,302.54) scale(0.9803,1)" font-size="46.95" fill="#111" stroke="#111" stroke-width="0" style="" >(c)</text>
<text transform="translate(708.3,438.88) rotate(-90) scale(1.3095,1)" fill="#333" stroke="#333" stroke-width="0.45"><tspan x="0" y="0" font-size="22.38" style="font-style:italic;">R</tspan><tspan x="16.16" y="0" font-size="22.38" style=""> (x10</tspan><tspan x="65.92" y="-9.4" font-size="13.43" style="">2</tspan><tspan x="73.39" y="0" font-size="22.38" style=""> A/W)</tspan></text>
<text transform="translate(1284.97,457.39) rotate(-90) scale(1.1316,1)" fill="#ff2020" stroke="#ff2020" stroke-width="0.45"><tspan x="0" y="0" font-size="26.32" style="font-style:italic;">D</tspan><tspan x="19" y="-7.89" font-size="18.42" style="">*</tspan><tspan x="26.17" y="0" font-size="26.32" style=""> (x10</tspan><tspan x="84.68" y="-11.05" font-size="15.79" style="">11</tspan><tspan x="101.07" y="0" font-size="26.32" style=""> jones)</tspan></text>
<text transform="translate(928.1,501.6) scale(1.0895,1)" font-size="27.68" fill="#333" stroke="#333" stroke-width="0.45" style="font-style:italic;" >P</text>
<text transform="translate(940.81,509.84) scale(0.6539,1)" font-size="19.79" fill="#333" stroke="#333" stroke-width="0.45" style="font-style:italic;" >light</text>
<text transform="translate(968.35,501.77) scale(0.7044,1)" font-size="27.27" fill="#333" stroke="#333" stroke-width="0.45" style="" >(mW/mm</text>
<text transform="translate(1042.79,487) scale(1.0000,1)" font-size="14.29" fill="#333" stroke="#333" stroke-width="0.45" style="" >2</text>
<text transform="translate(1049.37,501.77) scale(0.9409,1)" font-size="27.27" fill="#333" stroke="#333" stroke-width="0.45" style="" >)</text>
<ellipse cx="1125.4" cy="303.4" rx="5" ry="7.5" fill="#0000ff"/>
<ellipse cx="1125.4" cy="339.4" rx="4.2" ry="6.8" fill="none" stroke="#ff0000" stroke-width="2.6"/>
<text transform="translate(1151.15,312.5) scale(1.0919,1)" font-size="26.09" fill="#222" stroke="#222" stroke-width="0.45" style="font-style:italic;" >R</text>
<text transform="translate(1151.25,348.5) scale(1.0683,1)" fill="#222" stroke="#222" stroke-width="0.45"><tspan x="0" y="0" font-size="23.53" style="font-style:italic;">D</tspan><tspan x="16.99" y="-8.24" font-size="14.12" style="">*</tspan></text>
<ellipse cx="799" cy="281" rx="5" ry="7.5" fill="#0000ff"/>
<ellipse cx="799" cy="298.5" rx="4.2" ry="6.8" fill="none" stroke="#ff0000" stroke-width="2.6"/>
<ellipse cx="974.5" cy="400" rx="5" ry="7.5" fill="#0000ff"/>
<ellipse cx="974.5" cy="408.8" rx="4.2" ry="6.8" fill="none" stroke="#ff0000" stroke-width="2.6"/>
<ellipse cx="1131.3" cy="411.5" rx="5" ry="7.5" fill="#0000ff"/>
<ellipse cx="1131.3" cy="419.4" rx="4.2" ry="6.8" fill="none" stroke="#ff0000" stroke-width="2.6"/>
<rect x="741.4" y="277" width="486.6" height="3" fill="#111"/>
<path d="M875.6,402 L894,393 L894,399.5 L948.8,399.5 L948.8,404.5 L894,404.5 L894,411 Z" fill="#0000ff"/>
<path d="M1070.7,410 L1050.7,400.7 L1050.7,407.5 L998.7,407.5 L998.7,412.5 L1050.7,412.5 L1050.7,419.3 Z" fill="#ff0000"/>
<rect x="139" y="537.5" width="467.5" height="357.1" fill="none" stroke="#222" stroke-width="3.2"/>
<line x1="139" y1="805.33" x2="145.5" y2="805.33" stroke="#222" stroke-width="2.5"/>
<line x1="139" y1="716.05" x2="145.5" y2="716.05" stroke="#222" stroke-width="2.5"/>
<line x1="139" y1="626.77" x2="145.5" y2="626.77" stroke="#222" stroke-width="2.5"/>
<line x1="139" y1="849.96" x2="143" y2="849.96" stroke="#222" stroke-width="2.5"/>
<line x1="139" y1="760.69" x2="143" y2="760.69" stroke="#222" stroke-width="2.5"/>
<line x1="139" y1="671.41" x2="143" y2="671.41" stroke="#222" stroke-width="2.5"/>
<line x1="139" y1="582.14" x2="143" y2="582.14" stroke="#222" stroke-width="2.5"/>
<line x1="255.88" y1="894.6" x2="255.88" y2="888.1" stroke="#222" stroke-width="2.5"/>
<line x1="372.75" y1="894.6" x2="372.75" y2="888.1" stroke="#222" stroke-width="2.5"/>
<line x1="489.62" y1="894.6" x2="489.62" y2="888.1" stroke="#222" stroke-width="2.5"/>
<line x1="197.44" y1="894.6" x2="197.44" y2="890.6" stroke="#222" stroke-width="2.5"/>
<line x1="314.31" y1="894.6" x2="314.31" y2="890.6" stroke="#222" stroke-width="2.5"/>
<line x1="431.19" y1="894.6" x2="431.19" y2="890.6" stroke="#222" stroke-width="2.5"/>
<line x1="548.06" y1="894.6" x2="548.06" y2="890.6" stroke="#222" stroke-width="2.5"/>
<text transform="translate(80.39,546.64) scale(1.0000,1)" font-size="26.5" fill="#333" stroke="#333" stroke-width="0.45">13.0</text>
<text transform="translate(80.52,635.92) scale(1.0000,1)" font-size="26.5" fill="#333" stroke="#333" stroke-width="0.45">12.5</text>
<text transform="translate(80.39,725.19) scale(1.0000,1)" font-size="26.5" fill="#333" stroke="#333" stroke-width="0.45">12.0</text>
<text transform="translate(82.51,814.34) scale(1.0000,1)" font-size="26.5" fill="#333" stroke="#333" stroke-width="0.45">11.5</text>
<text transform="translate(82.37,903.74) scale(1.0000,1)" font-size="26.5" fill="#333" stroke="#333" stroke-width="0.45">11.0</text>
<text transform="translate(120.15,925.14) scale(1.0000,1)" font-size="26.5" fill="#333" stroke="#333" stroke-width="0.45" style="">6.8</text>
<text transform="translate(237.52,925.14) scale(1.0000,1)" font-size="26.5" fill="#333" stroke="#333" stroke-width="0.45" style="">6.9</text>
<text transform="translate(354.08,925.14) scale(1.0000,1)" font-size="26.5" fill="#333" stroke="#333" stroke-width="0.45" style="">7.0</text>
<text transform="translate(471.02,925.14) scale(1.0000,1)" font-size="26.5" fill="#333" stroke="#333" stroke-width="0.45" style="">7.1</text>
<text transform="translate(588.48,925.27) scale(1.0000,1)" font-size="26.5" fill="#333" stroke="#333" stroke-width="0.45" style="">7.2</text>
<text transform="translate(321.91,970.94) scale(1.0159,1)" font-size="28.88" fill="#333" stroke="#333" stroke-width="0.45" style="" >Time (s)</text>
<text transform="translate(63.61,754.22) rotate(-90) scale(1.1886,1)" fill="#333" stroke="#333" stroke-width="0.45"><tspan x="0" y="0" font-size="25.67" style="font-style:italic;">I</tspan><tspan x="7.13" y="0" font-size="25.67" style=""> (μA)</tspan></text>
<text transform="translate(13.38,574.27) scale(1.0654,1)" font-size="47.27" fill="#111" stroke="#111" stroke-width="0" style="" >(d)</text>
<polyline fill="none" stroke="#ffaaaa" stroke-width="2.2" points="139.0,821.4 139.6,821.4 140.2,821.4 140.8,821.4 141.3,821.4 141.9,821.4 142.5,821.4 143.1,821.4 143.7,821.4 144.3,821.4 144.8,821.4 145.4,821.4 146.0,821.4 146.6,821.4 147.2,821.4 147.8,821.4 148.3,821.4 148.9,821.4 149.5,821.4 150.1,821.4 150.7,821.4 151.3,821.4 151.9,821.4 152.4,821.4 153.0,821.4 153.6,821.4 154.2,821.4 154.8,821.4 155.4,821.4 155.9,821.4 156.5,821.4 157.1,821.4 157.7,821.4 158.3,821.4 158.9,821.4 159.5,821.4 160.0,821.4 160.6,821.4 161.2,821.4 161.8,821.4 162.4,821.4 163.0,821.4 163.5,821.4 164.1,821.4 164.7,821.4 165.3,821.4 165.9,821.4 166.5,821.4 167.1,821.4 167.6,821.4 168.2,821.4 168.8,821.4 169.4,821.4 170.0,821.4 170.6,821.4 171.1,821.4 171.7,821.4 172.3,821.4 172.9,821.4 173.5,821.4 174.1,821.4 174.6,821.4 175.2,821.4 175.8,821.4 176.4,821.4 177.0,821.4 177.6,821.4 178.2,821.4 178.7,821.4 179.3,821.4 179.9,821.4 180.5,821.4 181.1,821.4 181.7,821.4 182.2,821.4 182.8,821.4 183.4,821.4 184.0,821.4 184.6,821.4 185.2,821.4 185.8,821.4 186.3,821.4 186.9,821.4 187.5,821.4 188.1,821.4 188.7,821.4 189.3,821.4 189.8,821.4 190.4,821.4 191.0,821.4 191.6,821.4 192.2,821.4 192.8,821.4 193.3,821.4 193.9,821.4 194.5,821.4 195.1,821.4 195.7,821.4 196.3,821.4 196.9,821.4 197.4,821.4 198.0,821.4 198.6,821.4 199.2,821.4 199.8,821.4 200.4,821.4 200.9,821.4 201.5,821.4 202.1,821.4 202.7,821.4 203.3,821.4 203.9,821.4 204.4,821.4 205.0,821.4 205.6,821.4 206.2,821.4 206.8,821.4 207.4,821.4 208.0,821.4 208.5,821.4 209.1,821.4 209.7,821.4 210.3,821.4 210.9,821.4 211.5,821.4 212.0,821.4 212.6,821.4 213.2,821.4 213.8,821.4 214.4,821.4 215.0,821.4 215.6,821.4 216.1,821.4 216.7,821.4 217.3,821.4 217.9,821.4 218.5,821.4 219.1,821.4 219.6,821.4 220.2,821.4 220.8,821.4 221.4,821.4 222.0,821.4 222.6,821.4 223.1,821.4 223.7,821.4 224.3,821.4 224.9,821.4 225.5,821.4 226.1,821.4 226.7,821.4 227.2,821.4 227.8,821.4 228.4,821.4 229.0,821.4 229.6,821.4 230.2,821.4 230.7,821.4 231.3,821.4 231.9,821.4 232.5,821.4 233.1,821.4 233.7,821.4 234.3,821.4 234.8,821.4 235.4,821.4 236.0,821.4 236.6,821.4 237.2,821.4 237.8,821.4 238.3,821.4 238.9,821.4 239.5,821.4 240.1,821.4 240.7,821.4 241.3,821.4 241.8,821.4 242.4,821.4 243.0,821.4 243.6,821.4 244.2,821.4 244.8,821.4 245.4,821.4 245.9,821.4 246.5,821.4 247.1,821.4 247.7,821.4 248.3,821.4 248.9,821.4 249.4,821.4 250.0,821.4 250.6,821.4 251.2,821.4 251.8,821.4 252.4,821.4 253.0,821.4 253.5,821.4 254.1,821.4 254.7,821.4 255.3,821.4 255.9,821.4 256.5,821.4 257.0,821.4 257.6,821.4 258.2,821.4 258.8,821.4 259.4,821.4 260.0,821.4 260.6,821.4 261.1,821.4 261.7,821.4 262.3,821.4 262.9,821.4 263.5,821.4 264.1,821.4 264.6,821.4 265.2,821.4 265.8,821.4 266.4,821.4 267.0,821.4 267.6,821.4 268.1,821.4 268.7,821.4 269.3,821.4 269.9,821.4 270.5,821.4 271.1,821.4 271.7,821.4 272.2,821.4 272.8,821.4 273.4,821.4 274.0,821.4 274.6,821.4 275.2,821.4 275.7,821.4 276.3,821.4 276.9,821.4 277.5,821.4 278.1,821.4 278.7,821.4 279.2,821.4 279.8,821.4 280.4,821.4 281.0,821.4 281.6,821.4 282.2,821.4 282.8,821.4 283.3,821.4 283.9,821.4 284.5,821.4 285.1,821.4 285.7,821.4 286.3,821.4 286.8,821.4 287.4,821.4 288.0,821.4 288.6,821.4 289.2,821.4 289.8,821.4 290.4,821.4 290.9,821.4 291.5,821.4 292.1,821.4 292.7,821.4 293.3,821.4 293.9,821.4 294.4,821.4 295.0,821.4 295.6,821.4 296.2,821.4 296.8,821.4 297.4,821.4 298.0,821.4 298.5,821.4 299.1,821.4 299.7,821.4 300.3,821.4 300.9,821.4 301.5,821.4 302.0,821.4 302.6,821.4 303.2,821.4 303.8,821.4 304.4,821.4 305.0,821.4 305.5,821.4 306.1,821.4 306.7,821.4 307.3,821.4 307.9,821.4 308.5,821.4 309.1,821.4 309.6,821.4 310.2,821.4 310.8,821.4 311.4,821.4 312.0,821.4 312.6,821.4 313.1,821.4 313.7,821.4 314.3,821.4 314.9,821.4 315.5,821.4 316.1,821.4 316.6,821.4 317.2,821.4 317.8,821.4 318.4,821.4 319.0,821.4 319.6,821.4 320.2,821.4 320.7,821.4 321.3,821.4 321.9,821.4 322.5,821.4 323.1,821.4 323.7,821.4 324.2,821.4 324.8,821.4 325.4,821.4 326.0,821.4 326.6,821.4 327.2,821.4 327.8,821.4 328.3,821.4 328.9,821.4 329.5,821.4 330.1,821.4 330.7,809.5 331.3,798.3 331.8,787.8 332.4,778.0 333.0,768.8 333.6,760.3 334.2,752.2 334.8,744.7 335.4,737.6 335.9,731.0 336.5,724.8 337.1,719.0 337.7,713.6 338.3,708.6 338.9,703.8 339.4,699.4 340.0,695.2 340.6,691.3 341.2,687.6 341.8,684.2 342.4,681.0 342.9,678.0 343.5,675.2 344.1,672.6 344.7,670.1 345.3,667.8 345.9,665.6 346.5,663.6 347.0,661.7 347.6,660.0 348.2,658.3 348.8,656.8 349.4,655.3 350.0,653.9 350.5,652.7 351.1,651.5 351.7,650.4 352.3,649.3 352.9,648.3 353.5,647.4 354.1,646.5 354.6,645.7 355.2,645.0 355.8,644.3 356.4,643.6 357.0,643.0 357.6,642.4 358.1,641.9 358.7,641.4 359.3,640.9 359.9,640.5 360.5,640.0 361.1,639.7 361.6,639.3 362.2,638.9 362.8,638.6 363.4,638.3 364.0,638.0 364.6,637.8 365.2,637.5 365.7,637.3 366.3,637.1 366.9,636.9 367.5,636.7 368.1,636.5 368.7,636.4 369.2,636.2 369.8,636.1 370.4,635.9 371.0,635.8 371.6,635.7 372.2,635.6 372.8,635.5 373.3,635.4 373.9,635.3 374.5,635.2 375.1,635.1 375.7,635.0 376.3,635.0 376.8,634.9 377.4,634.8 378.0,634.8 378.6,634.7 379.2,634.7 379.8,634.6 380.3,634.6 380.9,634.5 381.5,634.5 382.1,634.5 382.7,634.4 383.3,634.4 383.9,634.4 384.4,634.3 385.0,634.3 385.6,634.3 386.2,634.3 386.8,634.2 387.4,634.2 387.9,634.2 388.5,634.2 389.1,634.2 389.7,634.1 390.3,634.1 390.9,634.1 391.5,634.1 392.0,634.1 392.6,634.1 393.2,634.1 393.8,634.1 394.4,634.1 395.0,634.0 395.5,634.0 396.1,634.0 396.7,634.0 397.3,634.0 397.9,634.0 398.5,634.0 399.0,634.0 399.6,634.0 400.2,634.0 400.8,634.0 401.4,634.0 402.0,634.0 402.6,634.0 403.1,634.0 403.7,634.0 404.3,634.0 404.9,634.0 405.5,634.0 406.1,634.0 406.6,634.0 407.2,633.9 407.8,633.9 408.4,633.9 409.0,633.9 409.6,633.9 410.1,633.9 410.7,633.9 411.3,633.9 411.9,633.9 412.5,633.9 413.1,633.9 413.7,633.9 414.2,633.9 414.8,633.9 415.4,633.9 416.0,633.9 416.6,633.9 417.2,633.9 417.7,633.9 418.3,633.9 418.9,633.9 419.5,633.9 420.1,633.9 420.7,633.9 421.3,633.9 421.8,633.9 422.4,633.9 423.0,633.9 423.6,633.9 424.2,633.9 424.8,633.9 425.3,633.9 425.9,633.9 426.5,633.9 427.1,633.9 427.7,633.9 428.3,633.9 428.9,633.9 429.4,633.9 430.0,633.9 430.6,633.9 431.2,633.9 431.8,633.9 432.4,633.9 432.9,633.9 433.5,633.9 434.1,633.9 434.7,633.9 435.3,633.9 435.9,633.9 436.4,633.9 437.0,633.9 437.6,633.9 438.2,633.9 438.8,633.9 439.4,633.9 440.0,633.9 440.5,633.9 441.1,633.9 441.7,633.9 442.3,633.9 442.9,633.9 443.5,633.9 444.0,633.9 444.6,633.9 445.2,633.9 445.8,633.9 446.4,633.9 447.0,633.9 447.6,633.9 448.1,633.9 448.7,633.9 449.3,633.9 449.9,633.9 450.5,633.9 451.1,633.9 451.6,633.9 452.2,633.9 452.8,633.9 453.4,633.9 454.0,633.9 454.6,633.9 455.1,633.9 455.7,633.9 456.3,633.9 456.9,633.9 457.5,633.9 458.1,633.9 458.7,633.9 459.2,633.9 459.8,633.9 460.4,633.9 461.0,633.9 461.6,633.9 462.2,633.9 462.7,633.9 463.3,633.9 463.9,633.9 464.5,633.9 465.1,633.9 465.7,633.9 466.2,633.9 466.8,633.9 467.4,633.9 468.0,633.9 468.6,633.9 469.2,633.9 469.8,633.9 470.3,633.9 470.9,633.9 471.5,633.9 472.1,633.9 472.7,633.9 473.3,633.9 473.8,633.9 474.4,633.9 475.0,633.9 475.6,633.9 476.2,633.9 476.8,633.9 477.4,633.9 477.9,633.9 478.5,633.9 479.1,633.9 479.7,633.9 480.3,633.9 480.9,633.9 481.4,633.9 482.0,633.9 482.6,633.9 483.2,633.9 483.8,633.9 484.4,633.9 484.9,633.9 485.5,633.9 486.1,633.9 486.7,633.9 487.3,633.9 487.9,633.9 488.5,633.9 489.0,633.9 489.6,633.9 490.2,633.9 490.8,633.9 491.4,633.9 492.0,633.9 492.5,633.9 493.1,633.9 493.7,633.9 494.3,633.9 494.9,633.9 495.5,633.9 496.1,633.9 496.6,633.9 497.2,633.9 497.8,633.9 498.4,633.9 499.0,633.9 499.6,633.9 500.1,633.9 500.7,633.9 501.3,633.9 501.9,633.9 502.5,633.9 503.1,633.9 503.7,633.9 504.2,633.9 504.8,633.9 505.4,633.9 506.0,633.9 506.6,633.9 507.2,633.9 507.7,633.9 508.3,633.9 508.9,633.9 509.5,633.9 510.1,633.9 510.7,633.9 511.2,633.9 511.8,633.9 512.4,633.9 513.0,633.9 513.6,633.9 514.2,633.9 514.8,633.9 515.3,633.9 515.9,633.9 516.5,633.9 517.1,633.9 517.7,633.9 518.3,633.9 518.8,633.9 519.4,633.9 520.0,633.9 520.6,633.9 521.2,633.9 521.8,633.9 522.3,633.9 522.9,633.9 523.5,633.9 524.1,633.9 524.7,633.9 525.3,633.9 525.9,633.9 526.4,633.9 527.0,633.9 527.6,633.9 528.2,633.9 528.8,633.9 529.4,633.9 529.9,633.9 530.5,633.9 531.1,633.9 531.7,633.9 532.3,633.9 532.9,633.9 533.5,633.9 534.0,633.9 534.6,633.9 535.2,633.9 535.8,633.9 536.4,633.9 537.0,633.9 537.5,633.9 538.1,633.9 538.7,633.9 539.3,633.9 539.9,633.9 540.5,633.9 541.0,633.9 541.6,633.9 542.2,633.9 542.8,633.9 543.4,633.9 544.0,633.9 544.6,633.9 545.1,633.9 545.7,633.9 546.3,633.9 546.9,633.9 547.5,633.9 548.1,633.9 548.6,633.9 549.2,633.9 549.8,633.9 550.4,633.9 551.0,633.9 551.6,633.9 552.2,633.9 552.7,633.9 553.3,633.9 553.9,633.9 554.5,633.9 555.1,633.9 555.7,633.9 556.2,633.9 556.8,633.9 557.4,633.9 558.0,633.9 558.6,633.9 559.2,633.9 559.8,633.9 560.3,633.9 560.9,633.9 561.5,633.9 562.1,633.9 562.7,633.9 563.3,633.9 563.8,633.9 564.4,633.9 565.0,633.9 565.6,633.9 566.2,633.9 566.8,633.9 567.3,633.9 567.9,633.9 568.5,633.9 569.1,633.9 569.7,633.9 570.3,633.9 570.9,633.9 571.4,633.9 572.0,633.9 572.6,633.9 573.2,633.9 573.8,633.9 574.4,633.9 574.9,633.9 575.5,633.9 576.1,633.9 576.7,633.9 577.3,633.9 577.9,633.9 578.5,633.9 579.0,633.9 579.6,633.9 580.2,633.9 580.8,633.9 581.4,633.9 582.0,633.9 582.5,633.9 583.1,633.9 583.7,633.9 584.3,633.9 584.9,633.9 585.5,633.9 586.0,633.9 586.6,633.9 587.2,633.9 587.8,633.9 588.4,633.9 589.0,633.9 589.6,633.9 590.1,633.9 590.7,633.9 591.3,633.9 591.9,633.9 592.5,633.9 593.1,633.9 593.6,633.9 594.2,633.9 594.8,633.9 595.4,633.9 596.0,633.9 596.6,633.9 597.1,633.9 597.7,633.9 598.3,633.9 598.9,633.9 599.5,633.9 600.1,633.9 600.7,633.9 601.2,633.9 601.8,633.9 602.4,633.9 603.0,633.9 603.6,633.9 604.2,633.9 604.7,633.9 605.3,633.9 605.9,633.9 606.5,633.9"/>
<g fill="#111"><circle cx="139.8" cy="834.8" r="3.65"/><circle cx="143.5" cy="844.1" r="3.65"/><circle cx="150.9" cy="828.0" r="3.65"/><circle cx="155.6" cy="850.9" r="3.65"/><circle cx="160.2" cy="857.9" r="3.65"/><circle cx="165.7" cy="813.9" r="3.65"/><circle cx="170.3" cy="830.6" r="3.65"/><circle cx="174.9" cy="831.1" r="3.65"/><circle cx="179.0" cy="858.3" r="3.65"/><circle cx="183.3" cy="826.5" r="3.65"/><circle cx="188.8" cy="825.6" r="3.65"/><circle cx="193.4" cy="837.6" r="3.65"/><circle cx="197.1" cy="838.5" r="3.65"/><circle cx="200.8" cy="828.4" r="3.65"/><circle cx="204.5" cy="819.1" r="3.65"/><circle cx="206.4" cy="833.9" r="3.65"/><circle cx="210.0" cy="832.0" r="3.65"/><circle cx="212.8" cy="815.4" r="3.65"/><circle cx="216.5" cy="792.3" r="3.65"/><circle cx="221.1" cy="825.6" r="3.65"/><circle cx="225.8" cy="817.3" r="3.65"/><circle cx="228.0" cy="834.3" r="3.65"/><circle cx="230.4" cy="792.3" r="3.65"/><circle cx="233.1" cy="813.6" r="3.65"/><circle cx="235.0" cy="826.5" r="3.65"/><circle cx="239.6" cy="838.5" r="3.65"/><circle cx="241.8" cy="862.5" r="3.65"/><circle cx="244.2" cy="797.9" r="3.65"/><circle cx="247.0" cy="826.9" r="3.65"/><circle cx="249.8" cy="845.4" r="3.65"/><circle cx="251.6" cy="849.6" r="3.65"/><circle cx="254.0" cy="806.2" r="3.65"/><circle cx="259.0" cy="790.5" r="3.65"/><circle cx="260.9" cy="797.9" r="3.65"/><circle cx="263.6" cy="786.8" r="3.65"/><circle cx="266.8" cy="818.2" r="3.65"/><circle cx="270.1" cy="798.8" r="3.65"/><circle cx="275.1" cy="841.7" r="3.65"/><circle cx="279.3" cy="853.3" r="3.65"/><circle cx="281.7" cy="784.0" r="3.65"/><circle cx="283.9" cy="823.7" r="3.65"/><circle cx="286.7" cy="833.0" r="3.65"/><circle cx="289.1" cy="797.9" r="3.65"/><circle cx="295.0" cy="816.3" r="3.65"/><circle cx="298.7" cy="809.9" r="3.65"/><circle cx="302.4" cy="781.2" r="3.65"/><circle cx="305.2" cy="802.1" r="3.65"/><circle cx="308.0" cy="827.4" r="3.65"/><circle cx="312.6" cy="791.8" r="3.65"/><circle cx="313.5" cy="825.6" r="3.65"/><circle cx="318.1" cy="792.3" r="3.65"/><circle cx="321.8" cy="836.1" r="3.65"/><circle cx="323.7" cy="822.8" r="3.65"/><circle cx="326.4" cy="805.3" r="3.65"/><circle cx="331.5" cy="724.9" r="3.65"/><circle cx="336.6" cy="717.2" r="3.65"/><circle cx="341.0" cy="688.4" r="3.65"/><circle cx="346.1" cy="684.4" r="3.65"/><circle cx="349.9" cy="660.1" r="3.65"/><circle cx="355.0" cy="651.2" r="3.65"/><circle cx="359.4" cy="635.3" r="3.65"/><circle cx="364.3" cy="666.3" r="3.65"/><circle cx="368.3" cy="623.8" r="3.65"/><circle cx="372.7" cy="676.2" r="3.65"/><circle cx="378.0" cy="612.0" r="3.65"/><circle cx="382.4" cy="672.9" r="3.65"/><circle cx="386.9" cy="684.4" r="3.65"/><circle cx="391.3" cy="654.8" r="3.65"/><circle cx="396.4" cy="668.9" r="3.65"/><circle cx="401.5" cy="677.8" r="3.65"/><circle cx="405.9" cy="637.5" r="3.65"/><circle cx="410.3" cy="657.9" r="3.65"/><circle cx="415.2" cy="595.9" r="3.65"/><circle cx="421.8" cy="662.9" r="3.65"/><circle cx="426.7" cy="566.6" r="3.65"/><circle cx="431.8" cy="619.8" r="3.65"/><circle cx="436.2" cy="605.4" r="3.65"/><circle cx="441.3" cy="634.2" r="3.65"/><circle cx="446.2" cy="632.0" r="3.65"/><circle cx="450.2" cy="570.0" r="3.65"/><circle cx="455.0" cy="649.0" r="3.65"/><circle cx="459.5" cy="629.1" r="3.65"/><circle cx="464.3" cy="636.4" r="3.65"/><circle cx="468.8" cy="611.4" r="3.65"/><circle cx="473.9" cy="578.8" r="3.65"/><circle cx="478.3" cy="649.7" r="3.65"/><circle cx="483.2" cy="620.2" r="3.65"/><circle cx="487.8" cy="676.2" r="3.65"/><circle cx="492.7" cy="684.4" r="3.65"/><circle cx="497.1" cy="596.5" r="3.65"/><circle cx="503.3" cy="651.2" r="3.65"/><circle cx="502.0" cy="614.9" r="3.65"/><circle cx="507.7" cy="616.5" r="3.65"/><circle cx="514.4" cy="644.6" r="3.65"/><circle cx="518.1" cy="596.5" r="3.65"/><circle cx="520.4" cy="607.6" r="3.65"/><circle cx="523.2" cy="662.3" r="3.65"/><circle cx="525.4" cy="642.4" r="3.65"/><circle cx="528.1" cy="613.1" r="3.65"/><circle cx="532.1" cy="598.7" r="3.65"/><circle cx="534.3" cy="665.8" r="3.65"/><circle cx="537.4" cy="641.5" r="3.65"/><circle cx="539.6" cy="646.8" r="3.65"/><circle cx="541.8" cy="601.6" r="3.65"/><circle cx="544.0" cy="588.8" r="3.65"/><circle cx="546.3" cy="613.1" r="3.65"/><circle cx="551.3" cy="639.3" r="3.65"/><circle cx="553.6" cy="606.9" r="3.65"/><circle cx="555.8" cy="576.6" r="3.65"/><circle cx="558.0" cy="634.8" r="3.65"/><circle cx="560.2" cy="614.9" r="3.65"/><circle cx="563.5" cy="642.4" r="3.65"/><circle cx="567.5" cy="618.7" r="3.65"/><circle cx="572.4" cy="627.5" r="3.65"/><circle cx="574.6" cy="678.4" r="3.65"/><circle cx="576.8" cy="660.7" r="3.65"/><circle cx="579.0" cy="626.0" r="3.65"/><circle cx="581.2" cy="664.1" r="3.65"/><circle cx="585.7" cy="651.9" r="3.65"/><circle cx="589.0" cy="648.6" r="3.65"/><circle cx="590.5" cy="609.8" r="3.65"/><circle cx="592.7" cy="679.5" r="3.65"/><circle cx="595.6" cy="671.8" r="3.65"/><circle cx="597.8" cy="686.6" r="3.65"/><circle cx="600.1" cy="628.6" r="3.65"/><circle cx="604.5" cy="660.7" r="3.65"/></g>
<rect x="160.5" y="557.5" width="153.5" height="75.5" fill="#fff" stroke="#b0b0b0" stroke-width="2"/>
<circle cx="197" cy="577.4" r="3.6" fill="#111"/>
<line x1="165" y1="613.2" x2="228" y2="613.2" stroke="#ffb3b3" stroke-width="3"/>
<text transform="translate(236.19,586.72) scale(1.0345,1)" font-size="27.86" fill="#333" stroke="#333" stroke-width="0.45" style="" >Data</text>
<text transform="translate(236.12,622.73) scale(1.0924,1)" font-size="27.21" fill="#333" stroke="#333" stroke-width="0.45" style="" >Fitted</text>
<text transform="translate(394.62,766.23) scale(0.9295,1)" fill="#ff4a4a" stroke="#ff4a4a" stroke-width="1.1"><tspan x="0" y="0" font-size="27.46" style="">τ</tspan><tspan x="10.85" y="0" font-size="27.46" style=""> = 7.6 ms</tspan></text>
<rect x="769.5" y="542.7" width="470" height="358.1" fill="none" stroke="#222" stroke-width="3.2"/>
<line x1="769.5" y1="811.27" x2="776" y2="811.27" stroke="#222" stroke-width="2.5"/>
<line x1="769.5" y1="721.75" x2="776" y2="721.75" stroke="#222" stroke-width="2.5"/>
<line x1="769.5" y1="632.23" x2="776" y2="632.23" stroke="#222" stroke-width="2.5"/>
<line x1="769.5" y1="856.04" x2="773.5" y2="856.04" stroke="#222" stroke-width="2.5"/>
<line x1="769.5" y1="766.51" x2="773.5" y2="766.51" stroke="#222" stroke-width="2.5"/>
<line x1="769.5" y1="676.99" x2="773.5" y2="676.99" stroke="#222" stroke-width="2.5"/>
<line x1="769.5" y1="587.46" x2="773.5" y2="587.46" stroke="#222" stroke-width="2.5"/>
<line x1="887" y1="900.8" x2="887" y2="894.3" stroke="#222" stroke-width="2.5"/>
<line x1="1004.5" y1="900.8" x2="1004.5" y2="894.3" stroke="#222" stroke-width="2.5"/>
<line x1="1122" y1="900.8" x2="1122" y2="894.3" stroke="#222" stroke-width="2.5"/>
<line x1="828.25" y1="900.8" x2="828.25" y2="896.8" stroke="#222" stroke-width="2.5"/>
<line x1="945.75" y1="900.8" x2="945.75" y2="896.8" stroke="#222" stroke-width="2.5"/>
<line x1="1063.25" y1="900.8" x2="1063.25" y2="896.8" stroke="#222" stroke-width="2.5"/>
<line x1="1180.75" y1="900.8" x2="1180.75" y2="896.8" stroke="#222" stroke-width="2.5"/>
<text transform="translate(709.38,551.84) scale(1.0000,1)" font-size="26.5" fill="#333" stroke="#333" stroke-width="0.45">13.0</text>
<text transform="translate(709.52,641.37) scale(1.0000,1)" font-size="26.5" fill="#333" stroke="#333" stroke-width="0.45">12.5</text>
<text transform="translate(709.38,730.89) scale(1.0000,1)" font-size="26.5" fill="#333" stroke="#333" stroke-width="0.45">12.0</text>
<text transform="translate(711.5,820.28) scale(1.0000,1)" font-size="26.5" fill="#333" stroke="#333" stroke-width="0.45">11.5</text>
<text transform="translate(711.37,909.94) scale(1.0000,1)" font-size="26.5" fill="#333" stroke="#333" stroke-width="0.45">11.0</text>
<text transform="translate(744.02,930.64) scale(1.0000,1)" font-size="26.5" fill="#333" stroke="#333" stroke-width="0.45" style="">16.8</text>
<text transform="translate(861.08,930.64) scale(1.0000,1)" font-size="26.5" fill="#333" stroke="#333" stroke-width="0.45" style="">16.9</text>
<text transform="translate(978.95,930.64) scale(1.0000,1)" font-size="26.5" fill="#333" stroke="#333" stroke-width="0.45" style="">17.0</text>
<text transform="translate(1095.48,930.64) scale(1.0000,1)" font-size="26.5" fill="#333" stroke="#333" stroke-width="0.45" style="">17.1</text>
<text transform="translate(1213.15,930.77) scale(1.0000,1)" font-size="26.5" fill="#333" stroke="#333" stroke-width="0.45" style="">17.2</text>
<text transform="translate(952.41,977.21) scale(0.9778,1)" font-size="29.95" fill="#333" stroke="#333" stroke-width="0.45" style="" >Time (s)</text>
<text transform="translate(695.27,758.24) rotate(-90) scale(1.1342,1)" fill="#333" stroke="#333" stroke-width="0.45"><tspan x="0" y="0" font-size="27.27" style="font-style:italic;">I</tspan><tspan x="7.58" y="0" font-size="27.27" style=""> (μA)</tspan></text>
<text transform="translate(626.74,573.56) scale(1.0169,1)" font-size="46.84" fill="#111" stroke="#111" stroke-width="0" style="" >(e)</text>
<polyline fill="none" stroke="#ffaaaa" stroke-width="2.2" points="769.5,630.4 770.1,630.4 770.7,630.4 771.3,630.4 771.8,630.4 772.4,630.4 773.0,630.4 773.6,630.4 774.2,630.4 774.8,630.4 775.4,630.4 776.0,630.4 776.6,630.4 777.1,630.4 777.7,630.4 778.3,630.4 778.9,630.4 779.5,630.4 780.1,630.4 780.7,630.4 781.3,630.4 781.8,630.4 782.4,630.4 783.0,630.4 783.6,630.4 784.2,630.4 784.8,630.4 785.4,630.4 785.9,630.4 786.5,630.4 787.1,630.4 787.7,630.4 788.3,630.4 788.9,630.4 789.5,630.4 790.1,630.4 790.7,630.4 791.2,630.4 791.8,630.4 792.4,630.4 793.0,630.4 793.6,630.4 794.2,630.4 794.8,630.4 795.3,630.4 795.9,630.4 796.5,630.4 797.1,630.4 797.7,630.4 798.3,630.4 798.9,630.4 799.5,630.4 800.0,630.4 800.6,630.4 801.2,630.4 801.8,630.4 802.4,630.4 803.0,630.4 803.6,630.4 804.2,630.4 804.8,630.4 805.3,630.4 805.9,630.4 806.5,630.4 807.1,630.4 807.7,630.4 808.3,630.4 808.9,630.4 809.4,630.4 810.0,630.4 810.6,630.4 811.2,630.4 811.8,630.4 812.4,630.4 813.0,630.4 813.6,630.4 814.2,630.4 814.7,630.4 815.3,630.4 815.9,630.4 816.5,630.4 817.1,630.4 817.7,630.4 818.3,630.4 818.9,630.4 819.4,630.4 820.0,630.4 820.6,630.4 821.2,630.4 821.8,630.4 822.4,630.4 823.0,630.4 823.5,630.4 824.1,630.4 824.7,630.4 825.3,630.4 825.9,630.4 826.5,630.4 827.1,630.4 827.7,630.4 828.3,630.4 828.8,630.4 829.4,630.4 830.0,630.4 830.6,630.4 831.2,630.4 831.8,630.4 832.4,630.4 832.9,630.4 833.5,630.4 834.1,630.4 834.7,630.4 835.3,630.4 835.9,630.4 836.5,630.4 837.1,630.4 837.7,630.4 838.2,630.4 838.8,630.4 839.4,630.4 840.0,630.4 840.6,630.4 841.2,630.4 841.8,630.4 842.4,630.4 842.9,630.4 843.5,630.4 844.1,630.4 844.7,630.4 845.3,630.4 845.9,630.4 846.5,630.4 847.0,630.4 847.6,630.4 848.2,630.4 848.8,630.4 849.4,630.4 850.0,630.4 850.6,630.4 851.2,630.4 851.8,630.4 852.3,630.4 852.9,630.4 853.5,630.4 854.1,630.4 854.7,630.4 855.3,630.4 855.9,630.4 856.5,630.4 857.0,630.4 857.6,630.4 858.2,630.4 858.8,630.4 859.4,630.4 860.0,630.4 860.6,630.4 861.1,630.4 861.7,630.4 862.3,630.4 862.9,630.4 863.5,630.4 864.1,630.4 864.7,630.4 865.3,630.4 865.9,630.4 866.4,630.4 867.0,630.4 867.6,630.4 868.2,630.4 868.8,630.4 869.4,630.4 870.0,630.4 870.5,630.4 871.1,630.4 871.7,630.4 872.3,630.4 872.9,630.4 873.5,630.4 874.1,630.4 874.7,630.4 875.3,630.4 875.8,630.4 876.4,630.4 877.0,630.4 877.6,630.4 878.2,630.4 878.8,630.4 879.4,630.4 880.0,630.4 880.5,630.4 881.1,630.4 881.7,630.4 882.3,630.4 882.9,630.4 883.5,630.4 884.1,630.4 884.6,630.4 885.2,630.4 885.8,630.4 886.4,630.4 887.0,630.4 887.6,630.4 888.2,630.4 888.8,630.4 889.4,630.4 889.9,630.4 890.5,630.4 891.1,630.4 891.7,630.4 892.3,630.4 892.9,630.4 893.5,630.4 894.1,630.4 894.6,630.4 895.2,630.4 895.8,630.4 896.4,630.4 897.0,630.4 897.6,630.4 898.2,630.4 898.7,630.4 899.3,630.4 899.9,630.4 900.5,630.4 901.1,630.4 901.7,630.4 902.3,630.4 902.9,630.4 903.5,630.4 904.0,630.4 904.6,630.4 905.2,630.4 905.8,630.4 906.4,630.4 907.0,630.4 907.6,630.4 908.1,630.4 908.7,630.4 909.3,630.4 909.9,630.4 910.5,630.4 911.1,630.4 911.7,630.4 912.3,630.4 912.9,630.4 913.4,630.4 914.0,630.4 914.6,630.4 915.2,630.4 915.8,630.4 916.4,630.4 917.0,630.4 917.6,630.4 918.1,630.4 918.7,630.4 919.3,630.4 919.9,630.4 920.5,630.4 921.1,630.4 921.7,630.4 922.2,630.4 922.8,630.4 923.4,630.4 924.0,630.4 924.6,630.4 925.2,630.4 925.8,630.4 926.4,630.4 927.0,630.4 927.5,630.4 928.1,630.4 928.7,630.4 929.3,630.4 929.9,630.4 930.5,630.4 931.1,630.4 931.7,630.4 932.2,633.0 932.8,635.5 933.4,638.0 934.0,640.4 934.6,642.8 935.2,645.1 935.8,647.4 936.3,649.7 936.9,651.9 937.5,654.1 938.1,656.3 938.7,658.4 939.3,660.5 939.9,662.6 940.5,664.6 941.1,666.6 941.6,668.5 942.2,670.5 942.8,672.3 943.4,674.2 944.0,676.0 944.6,677.8 945.2,679.6 945.7,681.3 946.3,683.0 946.9,684.7 947.5,686.4 948.1,688.0 948.7,689.6 949.3,691.2 949.9,692.7 950.5,694.2 951.0,695.7 951.6,697.2 952.2,698.7 952.8,700.1 953.4,701.5 954.0,702.9 954.6,704.2 955.2,705.5 955.7,706.8 956.3,708.1 956.9,709.4 957.5,710.6 958.1,711.9 958.7,713.1 959.3,714.2 959.8,715.4 960.4,716.6 961.0,717.7 961.6,718.8 962.2,719.9 962.8,720.9 963.4,722.0 964.0,723.0 964.6,724.1 965.1,725.1 965.7,726.0 966.3,727.0 966.9,728.0 967.5,728.9 968.1,729.8 968.7,730.7 969.3,731.6 969.8,732.5 970.4,733.3 971.0,734.2 971.6,735.0 972.2,735.8 972.8,736.7 973.4,737.4 974.0,738.2 974.5,739.0 975.1,739.7 975.7,740.5 976.3,741.2 976.9,741.9 977.5,742.6 978.1,743.3 978.7,744.0 979.2,744.7 979.8,745.3 980.4,746.0 981.0,746.6 981.6,747.2 982.2,747.9 982.8,748.5 983.3,749.1 983.9,749.7 984.5,750.2 985.1,750.8 985.7,751.4 986.3,751.9 986.9,752.4 987.5,753.0 988.1,753.5 988.6,754.0 989.2,754.5 989.8,755.0 990.4,755.5 991.0,756.0 991.6,756.4 992.2,756.9 992.8,757.4 993.3,757.8 993.9,758.3 994.5,758.7 995.1,759.1 995.7,759.5 996.3,759.9 996.9,760.4 997.4,760.8 998.0,761.1 998.6,761.5 999.2,761.9 999.8,762.3 1000.4,762.7 1001.0,763.0 1001.6,763.4 1002.2,763.7 1002.7,764.1 1003.3,764.4 1003.9,764.7 1004.5,765.1 1005.1,765.4 1005.7,765.7 1006.3,766.0 1006.9,766.3 1007.4,766.6 1008.0,766.9 1008.6,767.2 1009.2,767.5 1009.8,767.8 1010.4,768.0 1011.0,768.3 1011.6,768.6 1012.1,768.8 1012.7,769.1 1013.3,769.4 1013.9,769.6 1014.5,769.8 1015.1,770.1 1015.7,770.3 1016.3,770.6 1016.8,770.8 1017.4,771.0 1018.0,771.2 1018.6,771.5 1019.2,771.7 1019.8,771.9 1020.4,772.1 1020.9,772.3 1021.5,772.5 1022.1,772.7 1022.7,772.9 1023.3,773.1 1023.9,773.3 1024.5,773.5 1025.1,773.6 1025.7,773.8 1026.2,774.0 1026.8,774.2 1027.4,774.3 1028.0,774.5 1028.6,774.7 1029.2,774.8 1029.8,775.0 1030.4,775.1 1030.9,775.3 1031.5,775.4 1032.1,775.6 1032.7,775.7 1033.3,775.9 1033.9,776.0 1034.5,776.2 1035.0,776.3 1035.6,776.4 1036.2,776.6 1036.8,776.7 1037.4,776.8 1038.0,777.0 1038.6,777.1 1039.2,777.2 1039.8,777.3 1040.3,777.4 1040.9,777.6 1041.5,777.7 1042.1,777.8 1042.7,777.9 1043.3,778.0 1043.9,778.1 1044.5,778.2 1045.0,778.3 1045.6,778.4 1046.2,778.5 1046.8,778.6 1047.4,778.7 1048.0,778.8 1048.6,778.9 1049.2,779.0 1049.7,779.1 1050.3,779.2 1050.9,779.3 1051.5,779.3 1052.1,779.4 1052.7,779.5 1053.3,779.6 1053.9,779.7 1054.4,779.7 1055.0,779.8 1055.6,779.9 1056.2,780.0 1056.8,780.0 1057.4,780.1 1058.0,780.2 1058.5,780.3 1059.1,780.3 1059.7,780.4 1060.3,780.5 1060.9,780.5 1061.5,780.6 1062.1,780.7 1062.7,780.7 1063.3,780.8 1063.8,780.8 1064.4,780.9 1065.0,781.0 1065.6,781.0 1066.2,781.1 1066.8,781.1 1067.4,781.2 1068.0,781.2 1068.5,781.3 1069.1,781.3 1069.7,781.4 1070.3,781.4 1070.9,781.5 1071.5,781.5 1072.1,781.6 1072.7,781.6 1073.2,781.7 1073.8,781.7 1074.4,781.8 1075.0,781.8 1075.6,781.9 1076.2,781.9 1076.8,781.9 1077.4,782.0 1077.9,782.0 1078.5,782.1 1079.1,782.1 1079.7,782.1 1080.3,782.2 1080.9,782.2 1081.5,782.3 1082.1,782.3 1082.6,782.3 1083.2,782.4 1083.8,782.4 1084.4,782.4 1085.0,782.5 1085.6,782.5 1086.2,782.5 1086.8,782.6 1087.3,782.6 1087.9,782.6 1088.5,782.6 1089.1,782.7 1089.7,782.7 1090.3,782.7 1090.9,782.8 1091.5,782.8 1092.0,782.8 1092.6,782.8 1093.2,782.9 1093.8,782.9 1094.4,782.9 1095.0,782.9 1095.6,783.0 1096.1,783.0 1096.7,783.0 1097.3,783.0 1097.9,783.1 1098.5,783.1 1099.1,783.1 1099.7,783.1 1100.3,783.1 1100.9,783.2 1101.4,783.2 1102.0,783.2 1102.6,783.2 1103.2,783.3 1103.8,783.3 1104.4,783.3 1105.0,783.3 1105.6,783.3 1106.1,783.3 1106.7,783.4 1107.3,783.4 1107.9,783.4 1108.5,783.4 1109.1,783.4 1109.7,783.4 1110.3,783.5 1110.8,783.5 1111.4,783.5 1112.0,783.5 1112.6,783.5 1113.2,783.5 1113.8,783.6 1114.4,783.6 1115.0,783.6 1115.5,783.6 1116.1,783.6 1116.7,783.6 1117.3,783.6 1117.9,783.6 1118.5,783.7 1119.1,783.7 1119.6,783.7 1120.2,783.7 1120.8,783.7 1121.4,783.7 1122.0,783.7 1122.6,783.7 1123.2,783.8 1123.8,783.8 1124.4,783.8 1124.9,783.8 1125.5,783.8 1126.1,783.8 1126.7,783.8 1127.3,783.8 1127.9,783.8 1128.5,783.8 1129.1,783.9 1129.6,783.9 1130.2,783.9 1130.8,783.9 1131.4,783.9 1132.0,783.9 1132.6,783.9 1133.2,783.9 1133.7,783.9 1134.3,783.9 1134.9,783.9 1135.5,784.0 1136.1,784.0 1136.7,784.0 1137.3,784.0 1137.9,784.0 1138.5,784.0 1139.0,784.0 1139.6,784.0 1140.2,784.0 1140.8,784.0 1141.4,784.0 1142.0,784.0 1142.6,784.0 1143.2,784.0 1143.7,784.0 1144.3,784.1 1144.9,784.1 1145.5,784.1 1146.1,784.1 1146.7,784.1 1147.3,784.1 1147.9,784.1 1148.4,784.1 1149.0,784.1 1149.6,784.1 1150.2,784.1 1150.8,784.1 1151.4,784.1 1152.0,784.1 1152.6,784.1 1153.1,784.1 1153.7,784.1 1154.3,784.1 1154.9,784.1 1155.5,784.2 1156.1,784.2 1156.7,784.2 1157.2,784.2 1157.8,784.2 1158.4,784.2 1159.0,784.2 1159.6,784.2 1160.2,784.2 1160.8,784.2 1161.4,784.2 1162.0,784.2 1162.5,784.2 1163.1,784.2 1163.7,784.2 1164.3,784.2 1164.9,784.2 1165.5,784.2 1166.1,784.2 1166.7,784.2 1167.2,784.2 1167.8,784.2 1168.4,784.2 1169.0,784.2 1169.6,784.2 1170.2,784.2 1170.8,784.2 1171.3,784.2 1171.9,784.3 1172.5,784.3 1173.1,784.3 1173.7,784.3 1174.3,784.3 1174.9,784.3 1175.5,784.3 1176.1,784.3 1176.6,784.3 1177.2,784.3 1177.8,784.3 1178.4,784.3 1179.0,784.3 1179.6,784.3 1180.2,784.3 1180.8,784.3 1181.3,784.3 1181.9,784.3 1182.5,784.3 1183.1,784.3 1183.7,784.3 1184.3,784.3 1184.9,784.3 1185.5,784.3 1186.0,784.3 1186.6,784.3 1187.2,784.3 1187.8,784.3 1188.4,784.3 1189.0,784.3 1189.6,784.3 1190.2,784.3 1190.7,784.3 1191.3,784.3 1191.9,784.3 1192.5,784.3 1193.1,784.3 1193.7,784.3 1194.3,784.3 1194.8,784.3 1195.4,784.3 1196.0,784.3 1196.6,784.3 1197.2,784.3 1197.8,784.3 1198.4,784.3 1199.0,784.3 1199.6,784.3 1200.1,784.3 1200.7,784.3 1201.3,784.3 1201.9,784.3 1202.5,784.3 1203.1,784.3 1203.7,784.4 1204.3,784.4 1204.8,784.4 1205.4,784.4 1206.0,784.4 1206.6,784.4 1207.2,784.4 1207.8,784.4 1208.4,784.4 1209.0,784.4 1209.5,784.4 1210.1,784.4 1210.7,784.4 1211.3,784.4 1211.9,784.4 1212.5,784.4 1213.1,784.4 1213.7,784.4 1214.2,784.4 1214.8,784.4 1215.4,784.4 1216.0,784.4 1216.6,784.4 1217.2,784.4 1217.8,784.4 1218.4,784.4 1218.9,784.4 1219.5,784.4 1220.1,784.4 1220.7,784.4 1221.3,784.4 1221.9,784.4 1222.5,784.4 1223.1,784.4 1223.6,784.4 1224.2,784.4 1224.8,784.4 1225.4,784.4 1226.0,784.4 1226.6,784.4 1227.2,784.4 1227.8,784.4 1228.3,784.4 1228.9,784.4 1229.5,784.4 1230.1,784.4 1230.7,784.4 1231.3,784.4 1231.9,784.4 1232.4,784.4 1233.0,784.4 1233.6,784.4 1234.2,784.4 1234.8,784.4 1235.4,784.4 1236.0,784.4 1236.6,784.4 1237.2,784.4 1237.7,784.4 1238.3,784.4 1238.9,784.4 1239.5,784.4"/>
<g fill="#111"><circle cx="771.4" cy="594.8" r="3.65"/><circle cx="775.1" cy="594.8" r="3.65"/><circle cx="771.4" cy="614.0" r="3.65"/><circle cx="770.5" cy="638.8" r="3.65"/><circle cx="779.3" cy="622.7" r="3.65"/><circle cx="784.2" cy="665.9" r="3.65"/><circle cx="787.9" cy="608.0" r="3.65"/><circle cx="792.5" cy="668.5" r="3.65"/><circle cx="797.6" cy="653.4" r="3.65"/><circle cx="801.6" cy="616.4" r="3.65"/><circle cx="806.8" cy="624.1" r="3.65"/><circle cx="811.7" cy="610.4" r="3.65"/><circle cx="816.3" cy="624.5" r="3.65"/><circle cx="820.9" cy="587.1" r="3.65"/><circle cx="825.1" cy="634.2" r="3.65"/><circle cx="830.0" cy="626.9" r="3.65"/><circle cx="834.6" cy="615.9" r="3.65"/><circle cx="840.1" cy="615.0" r="3.65"/><circle cx="844.1" cy="597.0" r="3.65"/><circle cx="849.3" cy="624.1" r="3.65"/><circle cx="853.9" cy="630.5" r="3.65"/><circle cx="858.4" cy="604.0" r="3.65"/><circle cx="863.0" cy="637.9" r="3.65"/><circle cx="868.0" cy="635.1" r="3.65"/><circle cx="872.2" cy="650.7" r="3.65"/><circle cx="876.8" cy="658.9" r="3.65"/><circle cx="879.5" cy="687.9" r="3.65"/><circle cx="882.3" cy="646.1" r="3.65"/><circle cx="887.4" cy="644.6" r="3.65"/><circle cx="892.3" cy="647.9" r="3.65"/><circle cx="896.0" cy="653.4" r="3.65"/><circle cx="898.4" cy="658.9" r="3.65"/><circle cx="900.6" cy="638.4" r="3.65"/><circle cx="905.7" cy="567.3" r="3.65"/><circle cx="910.1" cy="635.1" r="3.65"/><circle cx="912.5" cy="616.8" r="3.65"/><circle cx="914.9" cy="659.9" r="3.65"/><circle cx="917.1" cy="601.2" r="3.65"/><circle cx="919.8" cy="652.5" r="3.65"/><circle cx="923.5" cy="691.0" r="3.65"/><circle cx="929.0" cy="615.0" r="3.65"/><circle cx="933.6" cy="676.3" r="3.65"/><circle cx="938.1" cy="662.6" r="3.65"/><circle cx="944.6" cy="675.1" r="3.65"/><circle cx="950.0" cy="675.4" r="3.65"/><circle cx="956.5" cy="699.2" r="3.65"/><circle cx="962.0" cy="690.1" r="3.65"/><circle cx="966.5" cy="678.7" r="3.65"/><circle cx="971.1" cy="685.5" r="3.65"/><circle cx="976.1" cy="699.2" r="3.65"/><circle cx="980.7" cy="739.2" r="3.65"/><circle cx="985.0" cy="734.8" r="3.65"/><circle cx="990.5" cy="755.1" r="3.65"/><circle cx="995.9" cy="756.6" r="3.65"/><circle cx="1002.4" cy="760.9" r="3.65"/><circle cx="1008.3" cy="765.3" r="3.65"/><circle cx="1020.9" cy="768.1" r="3.65"/><circle cx="1014.4" cy="797.5" r="3.65"/><circle cx="1018.7" cy="795.3" r="3.65"/><circle cx="1023.1" cy="784.9" r="3.65"/><circle cx="1026.4" cy="799.7" r="3.65"/><circle cx="1030.1" cy="792.1" r="3.65"/><circle cx="1036.6" cy="806.2" r="3.65"/><circle cx="1040.1" cy="819.3" r="3.65"/><circle cx="1042.7" cy="826.9" r="3.65"/><circle cx="1046.6" cy="813.8" r="3.65"/><circle cx="1049.2" cy="795.8" r="3.65"/><circle cx="1054.0" cy="784.9" r="3.65"/><circle cx="1060.5" cy="797.5" r="3.65"/><circle cx="1065.5" cy="803.6" r="3.65"/><circle cx="1069.9" cy="787.7" r="3.65"/><circle cx="1074.9" cy="812.7" r="3.65"/><circle cx="1079.2" cy="767.5" r="3.65"/><circle cx="1084.0" cy="763.8" r="3.65"/><circle cx="1088.4" cy="747.4" r="3.65"/><circle cx="1093.2" cy="753.5" r="3.65"/><circle cx="1098.2" cy="775.7" r="3.65"/><circle cx="1102.5" cy="805.8" r="3.65"/><circle cx="1108.0" cy="814.5" r="3.65"/><circle cx="1112.3" cy="779.0" r="3.65"/><circle cx="1116.2" cy="755.1" r="3.65"/><circle cx="1121.4" cy="790.5" r="3.65"/><circle cx="1126.4" cy="775.7" r="3.65"/><circle cx="1130.8" cy="749.2" r="3.65"/><circle cx="1135.8" cy="795.8" r="3.65"/><circle cx="1140.2" cy="766.6" r="3.65"/><circle cx="1145.4" cy="749.2" r="3.65"/><circle cx="1149.7" cy="762.7" r="3.65"/><circle cx="1154.7" cy="779.0" r="3.65"/><circle cx="1159.1" cy="765.9" r="3.65"/><circle cx="1164.5" cy="769.6" r="3.65"/><circle cx="1168.4" cy="803.6" r="3.65"/><circle cx="1174.3" cy="815.3" r="3.65"/><circle cx="1178.7" cy="816.0" r="3.65"/><circle cx="1183.0" cy="782.7" r="3.65"/><circle cx="1187.4" cy="804.5" r="3.65"/><circle cx="1192.4" cy="790.5" r="3.65"/><circle cx="1197.2" cy="828.0" r="3.65"/><circle cx="1201.5" cy="787.0" r="3.65"/><circle cx="1205.9" cy="761.6" r="3.65"/><circle cx="1211.3" cy="758.8" r="3.65"/><circle cx="1215.7" cy="747.9" r="3.65"/><circle cx="1220.7" cy="764.4" r="3.65"/><circle cx="1225.0" cy="780.5" r="3.65"/><circle cx="1229.8" cy="793.6" r="3.65"/></g>
<rect x="1066.5" y="565.5" width="154.5" height="76.5" fill="#fff" stroke="#b0b0b0" stroke-width="2"/>
<circle cx="1102.2" cy="585.6" r="3.6" fill="#111"/>
<line x1="1071" y1="621.7" x2="1135.8" y2="621.7" stroke="#ffb3b3" stroke-width="3"/>
<text transform="translate(1143.17,595.22) scale(1.0433,1)" font-size="27.86" fill="#333" stroke="#333" stroke-width="0.45" style="" >Data</text>
<text transform="translate(1143.12,631.23) scale(1.0924,1)" font-size="27.21" fill="#333" stroke="#333" stroke-width="0.45" style="" >Fitted</text>
<text transform="translate(813.61,785.23) scale(0.9464,1)" fill="#ff4a4a" stroke="#ff4a4a" stroke-width="1.1"><tspan x="0" y="0" font-size="27.46" style="">τ</tspan><tspan x="10.85" y="0" font-size="27.46" style=""> = 29.9 ms</tspan></text>
</svg></body></html>
